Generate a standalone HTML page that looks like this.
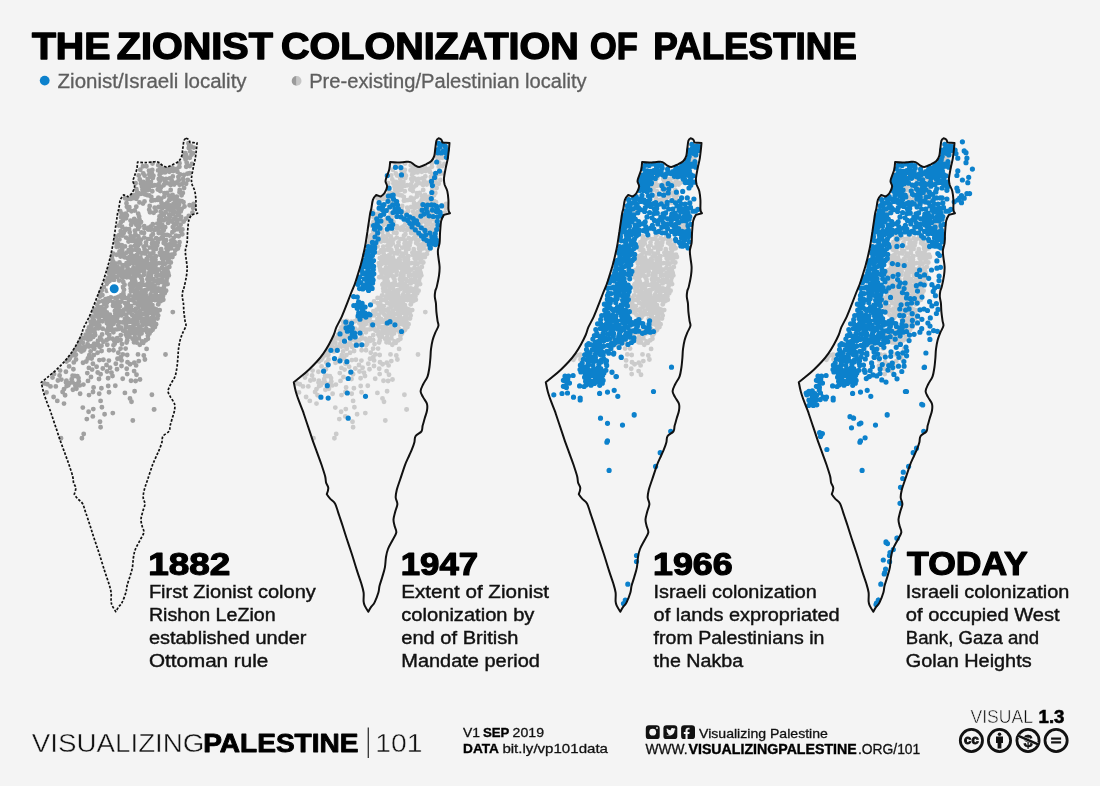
<!DOCTYPE html>
<html><head><meta charset="utf-8"><title>The Zionist Colonization of Palestine</title>
<style>
html,body{margin:0;padding:0;background:#f4f4f4;}
body{width:1100px;height:786px;overflow:hidden;font-family:"Liberation Sans", sans-serif;}
svg{display:block;will-change:transform;}
text{font-family:"Liberation Sans", sans-serif;}
</style></head><body>
<svg width="1100" height="786" viewBox="0 0 1100 786">

<path d="M160.3,222.9h0M178.7,236.3h0M155.9,256.2h0M133.2,256.2h0M172.4,257.0h0M179.5,242.3h0M187.4,173.7h0M167.1,235.0h0M163.9,214.6h0M157.1,245.4h0M139.5,202.4h0M172.5,167.8h0M142.1,253.2h0M149.7,205.9h0M152.5,185.8h0M162.3,225.0h0M152.4,257.6h0M165.2,206.9h0M128.5,241.5h0M145.8,190.7h0M135.0,245.8h0M158.4,197.7h0M191.1,146.5h0M184.1,188.1h0M116.6,246.7h0M161.2,249.3h0M159.6,174.9h0M164.6,204.4h0M166.5,248.4h0M186.1,155.1h0M116.1,236.6h0M160.1,166.2h0M155.4,200.1h0M158.7,184.1h0M175.2,250.5h0M146.0,245.1h0M171.5,254.7h0M166.0,178.9h0M144.3,237.6h0M130.7,198.9h0M179.0,204.8h0M173.2,171.1h0M160.8,206.7h0M176.8,196.8h0M178.2,208.7h0M172.8,176.5h0M139.4,226.8h0M155.7,210.9h0M157.8,189.6h0M188.8,148.0h0M138.2,213.7h0M148.1,190.0h0M122.3,253.2h0M113.3,262.0h0M190.2,151.4h0M158.7,233.0h0M119.4,239.4h0M164.7,234.9h0M136.1,261.8h0M162.2,258.4h0M130.8,246.8h0M185.1,157.5h0M130.7,236.0h0M171.3,240.5h0M146.7,251.2h0M174.4,253.9h0M169.6,235.6h0M122.3,235.6h0M121.6,213.6h0M113.1,253.6h0M136.3,198.8h0M135.6,183.2h0M156.1,248.9h0M171.5,221.4h0M168.5,219.3h0M186.1,183.8h0M182.3,234.3h0M125.0,246.4h0M120.9,233.5h0M136.9,220.7h0M128.6,261.5h0M179.0,245.6h0M132.0,250.3h0M174.0,219.1h0M147.1,261.7h0M169.1,200.3h0M159.5,216.5h0M175.7,245.5h0M169.1,214.4h0M151.1,226.4h0M153.7,212.8h0M158.3,165.2h0M177.1,222.1h0M189.6,205.2h0M138.3,236.5h0M136.4,189.3h0M171.7,243.0h0M122.2,249.7h0M185.9,218.8h0M161.6,231.5h0M193.8,147.6h0M192.6,205.9h0M123.8,255.4h0M160.9,168.7h0M128.7,250.1h0M125.1,198.2h0M171.1,248.3h0M161.6,237.9h0M165.2,227.3h0M163.1,261.8h0M179.5,192.2h0M175.6,216.7h0M179.2,227.4h0M172.6,195.0h0M185.4,153.2h0M180.6,224.7h0M170.7,190.0h0M164.3,196.6h0M142.9,184.2h0M140.4,257.5h0M179.7,190.0h0M165.7,244.4h0M116.7,254.8h0M174.8,242.2h0M181.0,231.6h0M126.9,215.5h0M188.8,215.9h0M159.9,171.4h0M138.6,193.1h0M122.0,247.1h0M143.4,182.0h0M148.1,229.5h0M160.4,255.0h0M163.6,168.9h0M189.6,173.2h0M166.1,218.5h0M191.9,163.9h0M165.4,258.0h0M133.2,198.0h0M133.9,236.5h0M130.5,220.6h0M169.2,258.0h0M160.3,191.1h0M135.9,242.3h0M173.7,238.0h0M169.5,245.6h0M144.5,228.3h0M142.6,260.7h0M169.3,171.7h0M152.8,224.3h0M154.8,185.3h0M159.8,181.0h0M112.0,256.6h0M139.1,216.4h0M164.8,181.4h0M148.7,227.6h0M172.4,232.2h0M189.7,166.0h0M139.8,179.5h0M144.5,201.4h0M148.3,256.8h0M120.6,256.5h0M174.2,184.6h0M161.9,215.4h0M183.5,202.3h0M122.8,216.0h0M143.0,203.6h0M150.4,256.3h0M124.5,257.3h0M184.5,206.5h0M159.1,220.0h0M165.4,212.3h0M140.3,169.8h0M139.6,223.7h0M135.5,249.8h0M170.2,216.7h0M193.0,153.2h0M157.7,242.8h0M120.7,231.1h0M159.1,226.3h0M173.9,223.6h0M115.8,242.6h0M136.9,191.7h0M157.9,199.9h0M167.9,209.2h0M132.8,222.4h0M120.9,222.2h0M178.7,180.2h0M161.5,203.0h0M175.8,224.6h0M158.7,207.0h0M129.7,232.2h0M127.5,198.9h0M163.3,253.0h0M168.1,254.4h0M176.0,182.8h0M163.9,220.2h0M126.5,203.2h0M170.3,205.5h0M121.1,217.3h0M166.3,183.0h0M144.4,187.8h0M161.1,227.0h0M172.8,227.1h0M168.1,206.1h0M179.5,163.2h0M174.4,207.5h0M144.7,194.3h0M175.2,201.9h0M176.0,235.7h0M179.6,184.7h0M157.3,223.6h0M182.8,192.9h0M192.5,212.6h0M129.1,229.2h0M182.4,229.4h0M174.2,211.7h0M151.4,200.8h0M149.0,170.8h0M152.3,169.9h0M137.4,196.5h0M122.1,226.7h0M149.9,176.7h0M180.4,219.3h0M158.8,179.0h0M177.4,171.8h0M129.6,256.9h0M144.2,226.1h0M137.5,245.2h0M126.0,237.6h0M132.0,240.9h0M193.7,203.9h0M153.3,200.3h0M169.9,178.4h0M158.1,170.4h0M144.0,192.2h0M124.0,218.1h0M138.7,175.4h0M134.8,210.5h0M150.0,212.2h0M140.9,183.6h0M163.3,239.2h0M152.3,191.2h0M193.2,208.0h0M131.1,253.5h0M177.4,220.0h0M131.7,195.7h0M138.4,252.8h0M125.8,213.8h0M183.1,179.0h0M149.3,174.4h0M112.4,259.9h0M123.7,233.1h0M146.7,182.9h0M161.9,178.5h0M169.6,169.6h0M154.7,207.8h0M127.3,258.1h0M129.3,207.2h0M167.1,251.6h0M140.2,243.5h0M152.8,178.1h0M126.1,229.0h0M189.3,145.2h0M183.9,174.9h0M161.2,198.7h0M186.2,166.7h0M166.1,240.2h0M166.3,169.3h0M175.7,205.7h0M171.7,198.8h0M136.6,255.2h0M137.9,229.0h0M158.8,239.4h0M134.9,230.8h0M126.5,252.7h0M151.9,173.4h0M149.0,188.0h0M152.5,163.6h0M154.3,229.9h0M155.6,228.2h0M178.9,214.8h0M129.9,238.7h0M179.4,166.8h0M158.4,186.6h0M162.2,208.2h0M161.5,218.5h0M165.0,172.4h0M146.9,195.1h0M136.3,206.7h0M152.9,234.2h0M178.7,200.5h0M144.6,175.5h0M181.6,208.9h0M173.3,209.4h0M147.7,179.1h0M142.0,186.8h0M158.0,229.7h0M141.0,222.0h0M131.2,224.7h0M178.4,176.9h0M188.5,143.3h0M146.4,185.3h0M151.3,197.0h0M118.8,225.6h0M177.0,229.2h0M135.4,234.2h0M177.5,212.9h0M126.0,218.2h0M160.9,187.4h0M117.5,240.0h0M170.6,184.9h0M161.8,233.6h0M147.9,239.1h0M119.1,235.1h0M146.7,258.9h0M150.7,229.8h0M131.5,211.3h0M181.6,195.3h0M136.3,224.7h0M177.9,248.6h0M187.8,180.0h0M167.3,202.8h0M119.6,254.5h0M174.9,198.6h0M170.1,210.0h0M146.4,166.2h0M180.1,174.5h0M143.0,166.2h0M143.3,173.4h0M183.6,221.6h0M183.9,155.9h0M161.4,172.7h0M119.5,251.5h0M149.3,195.5h0M153.4,249.3h0M134.2,219.0h0M145.0,253.4h0M171.9,180.9h0M150.0,184.2h0M120.2,211.1h0M149.9,253.8h0M128.6,209.7h0M134.9,195.3h0M172.9,213.8h0M152.0,260.0h0M180.7,211.4h0M150.9,182.0h0M140.8,193.9h0M164.5,193.3h0M160.7,211.7h0M154.2,246.6h0M169.1,195.8h0M118.7,246.5h0M167.1,192.9h0M183.4,182.6h0M142.5,189.7h0M122.8,220.8h0M163.6,185.2h0M134.2,240.1h0M181.1,217.0h0M168.9,183.6h0M144.0,233.0h0M141.4,232.5h0M150.6,238.8h0M170.5,207.7h0M149.2,209.7h0M181.8,201.1h0M153.4,175.7h0M186.7,162.6h0M168.1,222.9h0M159.9,252.7h0M163.7,230.3h0M189.8,157.7h0M176.6,168.9h0M138.9,250.2h0M174.1,230.6h0M185.6,159.6h0M191.5,154.8h0M121.8,245.1h0M124.9,230.5h0M182.0,184.1h0M151.5,235.7h0M126.9,206.7h0M139.5,219.8h0M173.1,245.1h0M173.5,203.8h0M118.4,244.1h0M129.2,273.7h0M130.7,288.6h0M158.2,283.4h0M137.3,321.4h0M162.4,277.0h0M150.0,266.8h0M145.3,284.9h0M152.6,329.8h0M125.0,303.1h0M84.9,338.2h0M149.2,287.2h0M139.4,334.8h0M95.7,312.9h0M85.8,346.7h0M82.8,342.7h0M102.7,328.7h0M139.4,284.1h0M113.4,275.0h0M153.9,308.5h0M103.2,315.9h0M143.1,314.3h0M147.9,335.8h0M168.2,273.0h0M137.6,265.2h0M156.4,275.7h0M136.3,312.3h0M159.0,275.3h0M98.0,340.7h0M140.4,266.6h0M154.4,285.8h0M128.0,298.0h0M162.0,267.7h0M95.5,328.8h0M113.4,332.2h0M113.9,329.8h0M91.6,331.0h0M94.7,346.1h0M162.3,263.4h0M140.3,311.0h0M142.1,322.0h0M145.0,290.3h0M163.3,299.7h0M133.5,267.7h0M123.0,330.5h0M164.7,285.0h0M106.8,290.7h0M154.9,300.0h0M155.6,268.7h0M93.2,336.9h0M135.3,281.7h0M134.9,321.6h0M120.8,335.1h0M97.3,305.0h0M134.1,299.0h0M103.8,287.1h0M134.0,317.6h0M163.2,292.9h0M79.1,343.9h0M117.9,340.7h0M135.3,333.5h0M157.7,300.1h0M155.3,280.7h0M109.7,300.5h0M103.4,341.7h0M88.9,327.4h0M159.6,296.1h0M150.0,264.1h0M131.0,291.3h0M129.7,299.9h0M90.9,335.6h0M88.1,339.7h0M146.0,303.5h0M149.5,333.6h0M117.5,266.6h0M109.5,281.6h0M152.3,326.0h0M113.6,323.7h0M124.1,309.7h0M145.8,340.3h0M162.0,272.8h0M137.1,289.5h0M113.8,265.4h0M123.3,282.0h0M147.7,289.3h0M147.1,332.3h0M146.0,306.1h0M139.1,331.8h0M136.4,273.4h0M113.9,269.1h0M123.1,274.0h0M131.8,322.0h0M147.5,314.2h0M150.9,275.4h0M144.0,274.8h0M90.7,321.8h0M99.1,318.0h0M132.1,269.8h0M98.1,344.7h0M119.9,306.6h0M117.1,276.9h0M139.4,314.5h0M74.2,352.1h0M107.2,333.1h0M157.2,313.4h0M156.2,309.5h0M128.7,319.2h0M127.7,268.4h0M81.4,351.5h0M143.6,269.8h0M85.7,334.6h0M133.4,263.6h0M113.9,280.1h0M114.9,311.0h0M115.3,297.9h0M108.0,316.7h0M93.2,311.2h0M108.9,269.5h0M109.0,338.6h0M123.8,295.9h0M143.0,293.0h0M126.3,327.4h0M115.3,313.7h0M129.6,295.4h0M102.1,334.5h0M105.4,314.4h0M127.2,340.5h0M154.9,318.5h0M100.1,337.4h0M121.3,275.9h0M122.4,322.4h0M110.6,267.2h0M95.3,309.5h0M150.7,294.4h0M122.0,297.6h0M135.8,296.5h0M99.9,296.5h0M144.2,319.1h0M131.2,306.2h0M126.8,277.2h0M107.1,283.9h0M135.3,293.8h0M94.3,320.9h0M108.3,298.5h0M104.8,318.7h0M117.4,317.2h0M159.7,310.1h0M93.2,318.4h0M146.9,316.6h0M99.6,311.2h0M150.0,271.0h0M83.1,347.1h0M150.2,284.7h0M142.7,267.5h0M136.5,269.3h0M139.4,301.7h0M79.7,346.9h0M111.0,325.9h0M106.7,330.5h0M115.4,263.5h0M103.8,312.1h0M75.7,349.7h0M140.7,318.5h0M137.5,286.2h0M147.0,300.7h0M167.4,270.5h0M138.9,338.4h0M140.5,288.1h0M146.3,328.8h0M117.1,268.9h0M133.4,273.5h0M109.2,334.9h0M155.6,288.1h0M125.9,314.7h0M145.8,324.6h0M88.8,333.3h0M99.3,325.4h0M142.2,281.5h0M152.8,264.2h0M97.1,316.6h0M123.4,293.2h0M87.6,344.1h0M117.2,338.1h0M115.9,304.0h0M118.2,309.8h0M106.9,323.3h0M148.9,273.2h0M155.7,293.8h0M98.8,314.7h0M136.6,262.1h0M125.1,271.6h0M143.2,303.3h0M91.5,346.2h0M124.9,319.1h0M97.0,325.1h0M105.5,299.2h0M147.7,297.8h0M119.5,268.8h0M129.2,264.1h0M153.9,311.4h0M100.1,293.6h0M132.1,300.1h0M122.5,267.7h0M121.3,327.6h0M117.1,321.1h0M114.7,343.8h0M108.2,328.0h0M118.3,296.8h0M138.9,327.2h0M122.8,287.3h0M169.3,266.9h0M144.4,300.0h0M113.5,321.0h0M90.6,339.1h0M122.6,265.3h0M126.5,263.3h0M112.0,263.6h0M132.0,282.1h0M162.4,289.3h0M128.4,322.0h0M119.1,328.8h0M141.1,277.7h0M156.1,324.3h0M125.1,297.9h0M149.7,279.9h0M141.8,290.6h0M132.2,329.6h0M110.9,297.4h0M98.9,321.6h0M110.4,275.8h0M160.3,301.3h0M128.6,307.1h0M158.2,304.4h0M122.7,277.8h0M136.6,342.6h0M142.3,284.8h0M124.0,289.8h0M130.4,277.5h0M134.7,337.0h0M155.4,262.9h0M122.3,270.7h0M154.9,327.1h0M135.9,308.8h0M129.0,312.4h0M106.7,340.0h0M107.7,320.7h0M98.9,301.7h0M148.3,306.9h0M118.3,325.3h0M145.5,292.6h0M130.1,330.7h0M148.8,310.8h0M117.4,301.2h0M140.8,270.8h0M121.3,295.1h0M159.0,269.6h0M152.4,305.1h0M111.8,278.6h0M132.4,285.0h0M105.8,281.0h0M137.5,304.1h0M158.5,280.0h0M129.5,336.6h0M153.4,272.1h0M162.6,280.4h0M142.3,296.6h0M135.6,315.6h0M132.0,314.8h0M170.8,262.5h0M112.6,338.8h0M166.3,268.4h0M157.3,291.0h0M125.8,334.4h0M141.9,263.8h0M155.7,296.3h0M134.8,276.0h0M125.7,324.8h0M149.3,330.5h0M91.3,328.4h0M72.4,355.4h0M102.8,301.2h0M108.5,325.6h0M148.4,276.5h0M111.8,317.1h0M141.5,333.4h0M136.1,330.1h0M116.7,329.4h0M150.8,301.3h0M108.1,277.7h0M132.2,279.5h0M104.4,304.2h0M130.7,308.6h0M166.5,281.1h0M101.5,345.7h0M165.0,263.9h0M125.6,322.1h0M154.2,322.4h0M121.5,301.5h0M94.7,332.7h0M148.0,283.3h0M106.4,306.3h0M139.9,295.1h0M128.0,270.7h0M166.1,290.8h0M91.5,316.4h0M81.8,337.8h0M168.8,275.4h0M115.1,316.8h0M119.2,303.7h0M150.1,297.8h0M147.9,338.8h0M84.2,349.5h0M160.6,298.2h0M115.2,272.1h0M107.3,344.7h0M110.1,329.8h0M125.6,331.6h0M148.0,323.5h0M142.3,325.4h0M101.3,339.5h0M140.1,305.6h0M115.7,307.0h0M80.7,340.2h0M117.9,272.4h0M151.4,313.1h0M151.8,318.0h0M151.2,309.2h0M163.8,287.2h0M138.3,299.5h0M133.1,319.7h0M109.8,314.6h0M102.5,321.2h0M167.9,262.0h0M109.1,273.2h0M95.2,335.0h0M133.8,290.1h0M101.7,290.6h0M99.0,307.5h0M120.6,339.9h0M113.0,305.7h0M143.9,330.1h0M152.9,314.9h0M148.5,321.0h0M102.0,310.3h0M120.9,311.1h0M114.3,341.0h0M119.2,322.3h0M142.1,341.5h0M129.1,333.9h0M133.5,325.7h0M129.9,284.8h0M131.5,332.9h0M104.6,309.1h0M152.0,291.4h0M158.2,315.6h0M157.5,318.5h0M113.1,302.1h0M134.8,303.0h0M149.1,304.7h0M152.7,267.8h0M74.9,355.0h0M87.5,330.9h0M151.6,288.7h0M94.7,316.3h0M111.1,322.8h0M134.0,342.3h0M90.8,325.8h0M127.4,309.7h0M134.0,310.3h0M114.5,277.2h0M138.4,307.2h0M102.4,295.1h0M89.0,336.9h0M147.2,309.0h0M107.0,302.5h0M165.7,272.3h0M155.6,265.3h0M135.6,340.3h0M146.7,265.6h0M132.7,287.3h0M68.9,359.7h0M89.0,346.5h0M101.4,313.0h0M66.5,361.6h0M77.3,346.9h0M119.0,275.0h0M145.1,321.6h0M119.1,280.5h0M134.4,270.9h0M134.8,285.3h0M129.7,327.2h0M145.8,295.1h0M109.9,319.3h0M141.7,300.4h0M94.2,343.6h0M124.5,284.8h0M134.5,279.3h0M143.4,306.0h0M145.8,311.5h0M126.7,317.4h0M139.4,275.7h0M136.6,317.7h0M152.8,296.1h0M121.5,315.4h0M159.7,289.0h0M93.4,324.3h0M119.5,262.4h0M164.1,269.2h0M159.1,263.1h0M149.3,318.6h0M133.3,296.5h0M123.0,313.5h0M152.7,320.5h0M137.7,324.0h0M101.5,307.2h0M125.7,274.5h0M167.1,277.9h0M95.8,323.0h0M106.8,312.4h0M126.9,266.0h0M118.6,313.4h0M120.2,271.7h0M127.0,336.7h0M132.6,338.7h0M111.4,271.8h0M153.1,279.1h0M162.9,296.3h0M167.6,284.1h0M98.5,328.3h0M139.0,292.9h0M136.5,256.5h0M143.4,322.4h0M138.7,266.3h0M151.0,276.9h0M132.8,281.9h0M148.6,283.3h0M155.5,267.6h0M139.4,271.3h0M130.5,284.0h0M152.3,310.9h0M133.6,320.4h0M158.3,304.3h0M141.6,283.8h0M135.3,245.5h0M134.9,296.0h0M155.5,259.7h0M161.5,292.9h0M138.5,241.9h0M138.6,285.7h0M140.2,297.4h0M153.5,290.5h0M130.2,312.0h0M138.0,245.8h0M164.8,276.1h0M162.2,279.2h0M168.2,249.4h0M170.9,256.4h0M132.1,260.6h0M140.9,239.7h0M154.2,243.0h0M135.2,328.6h0M130.0,308.9h0M163.7,243.0h0M138.1,259.8h0M155.1,270.1h0M155.4,299.1h0M152.0,243.6h0M153.0,266.2h0M140.3,300.4h0M164.7,293.2h0M152.3,240.5h0M147.1,315.9h0M150.8,299.0h0M135.7,331.0h0M132.4,289.9h0M130.9,270.1h0M135.1,293.4h0M143.0,308.7h0M149.3,269.0h0M149.8,247.6h0M153.3,315.4h0M152.0,283.4h0M166.1,255.5h0M138.1,239.7h0M134.5,260.8h0M158.4,288.5h0M147.4,279.2h0M142.0,279.4h0M145.4,305.1h0M147.3,259.8h0M150.6,309.4h0M156.0,290.0h0M138.6,274.8h0M147.2,267.5h0M133.4,256.4h0M150.1,324.3h0M126.4,305.9h0M152.8,285.9h0M135.6,323.1h0M128.7,299.8h0M155.9,295.6h0M145.1,252.8h0M154.2,249.4h0M144.2,271.5h0M127.9,304.0h0M156.2,238.3h0M138.5,262.9h0M140.6,329.7h0M153.3,252.8h0M155.9,310.5h0M143.7,246.6h0M165.8,281.8h0M155.4,245.3h0M169.3,244.5h0M164.6,269.9h0M162.1,300.2h0M157.1,271.6h0M146.0,295.7h0M158.4,269.6h0M163.0,257.3h0M148.6,273.6h0M135.4,276.4h0M134.9,258.5h0M138.8,331.8h0M163.2,274.2h0M144.6,249.2h0M143.8,263.7h0M151.1,331.1h0M162.0,282.0h0M137.2,316.7h0M135.5,273.1h0M159.3,280.3h0M141.3,303.9h0M146.0,242.5h0M151.9,271.6h0M87.9,358.5h0M97.7,372.5h0M103.4,359.7h0M97.6,352.7h0M73.8,362.4h0M134.1,371.1h0M117.0,369.3h0M102.8,368.5h0M117.5,358.7h0M94.3,348.7h0M126.6,342.6h0M127.2,355.0h0M121.5,366.0h0M73.4,369.2h0M138.0,354.4h0M120.6,348.6h0M92.1,369.6h0M126.7,368.8h0M134.3,362.8h0M79.9,350.1h0M69.1,366.4h0M138.8,361.1h0M99.4,360.1h0M83.0,362.7h0M110.1,367.7h0M125.6,348.6h0M83.4,350.4h0M90.6,351.4h0M130.1,364.3h0M96.6,366.7h0M108.9,360.6h0M89.3,355.2h0M99.5,346.8h0M115.8,363.7h0M106.5,365.0h0M144.9,359.5h0M101.6,351.0h0M93.9,355.1h0M75.9,354.7h0M109.1,350.3h0M86.3,361.5h0M92.9,363.7h0M143.2,342.9h0M91.6,358.6h0M113.5,345.2h0M76.0,359.5h0M122.0,344.1h0M127.2,374.1h0M122.8,354.4h0M120.8,357.2h0M118.3,352.8h0M76.2,348.9h0M88.9,367.9h0M113.5,350.3h0M127.5,362.3h0M136.1,365.4h0M69.9,358.0h0M111.5,372.8h0M121.6,360.4h0M143.8,355.5h0M107.0,371.5h0M146.6,348.9h0M139.8,344.7h0M79.7,385.4h0M83.4,384.6h0M55.8,386.4h0M72.9,389.7h0M61.4,379.6h0M74.9,376.0h0M72.6,382.4h0M66.0,382.4h0M71.7,379.2h0M52.5,377.6h0M57.9,380.5h0M76.1,384.1h0M59.6,375.5h0M50.5,386.4h0M54.0,374.1h0M47.3,384.2h0M62.6,392.0h0M64.0,389.1h0M78.5,378.1h0M66.7,386.1h0M76.4,388.8h0M69.4,383.3h0M53.6,397.0h0M100.6,374.2h0M60.1,370.6h0M136.5,374.8h0M91.0,377.0h0M108.1,378.2h0M93.0,392.0h0M75.4,385.8h0M87.3,373.1h0M109.0,392.3h0M112.5,376.0h0M89.0,395.1h0M135.6,381.0h0M99.2,393.7h0M46.5,392.4h0M93.6,387.5h0M108.2,386.0h0M77.4,376.3h0M66.4,380.6h0M115.3,385.7h0M131.0,380.7h0M65.9,371.7h0M124.9,392.9h0M80.1,393.7h0M44.4,383.4h0M140.0,379.5h0M88.0,380.9h0M65.1,395.2h0M68.3,385.3h0M78.8,381.5h0M99.0,379.0h0M72.6,375.8h0M122.7,378.8h0M101.4,388.3h0M57.3,400.9h0M64.0,403.6h0M82.8,407.6h0M88.6,411.8h0M93.3,409.1h0M101.9,407.3h0M100.6,400.9h0M92.8,416.4h0M104.6,414.2h0M112.8,413.1h0M86.8,419.1h0M100.0,421.8h0M100.6,427.3h0M83.7,434.0h0M81.9,438.2h0M61.0,438.2h0M172.8,312.1h0M165.5,354.5h0M151.9,394.8h0M154.2,409.4h0M134.6,391.2h0M130.0,398.5h0M131.5,401.7h0M154.0,409.5h0M132.8,420.5h0M131.5,401.8h0" fill="none" stroke="#a0a0a0" stroke-width="4.9" stroke-linecap="round"/>
<circle cx="114.2" cy="288.8" r="5.6" fill="#0c81cc" stroke="#fff" stroke-width="2.2"/>
<path d="M412.8,222.9h0M431.2,236.3h0M408.4,256.2h0M385.7,256.2h0M424.9,257.0h0M432.0,242.3h0M439.9,173.7h0M419.6,235.0h0M416.4,214.6h0M409.6,245.4h0M392.0,202.4h0M425.0,167.8h0M394.6,253.2h0M402.2,205.9h0M405.0,185.8h0M414.8,225.0h0M404.9,257.6h0M417.7,206.9h0M381.0,241.5h0M398.3,190.7h0M387.5,245.8h0M410.9,197.7h0M443.6,146.5h0M436.6,188.1h0M413.7,249.3h0M412.1,174.9h0M417.1,204.4h0M419.0,248.4h0M438.6,155.1h0M368.6,236.6h0M412.6,166.2h0M407.9,200.1h0M411.2,184.1h0M427.7,250.5h0M398.5,245.1h0M424.0,254.7h0M418.5,178.9h0M396.8,237.6h0M383.2,198.9h0M431.5,204.8h0M425.7,171.1h0M413.3,206.7h0M429.3,196.8h0M430.7,208.7h0M425.3,176.5h0M391.9,226.8h0M408.2,210.9h0M410.3,189.6h0M441.3,148.0h0M390.7,213.7h0M400.6,190.0h0M442.7,151.4h0M411.2,233.0h0M371.9,239.4h0M417.2,234.9h0M388.6,261.8h0M414.7,258.4h0M383.3,246.8h0M437.6,157.5h0M383.2,236.0h0M423.8,240.5h0M399.2,251.2h0M426.9,253.9h0M422.1,235.6h0M374.8,235.6h0M374.1,213.6h0M388.8,198.8h0M388.1,183.2h0M408.6,248.9h0M424.0,221.4h0M421.0,219.3h0M438.6,183.8h0M434.8,234.3h0M377.5,246.4h0M373.4,233.5h0M389.4,220.7h0M381.1,261.5h0M431.5,245.6h0M384.5,250.3h0M426.5,219.1h0M399.6,261.7h0M421.6,200.3h0M412.0,216.5h0M428.2,245.5h0M421.6,214.4h0M403.6,226.4h0M406.2,212.8h0M410.8,165.2h0M429.6,222.1h0M442.1,205.2h0M390.8,236.5h0M388.9,189.3h0M424.2,243.0h0M438.4,218.8h0M414.1,231.5h0M446.3,147.6h0M445.1,205.9h0M413.4,168.7h0M381.2,250.1h0M377.6,198.2h0M423.6,248.3h0M414.1,237.9h0M417.7,227.3h0M415.6,261.8h0M432.0,192.2h0M428.1,216.7h0M431.7,227.4h0M425.1,195.0h0M437.9,153.2h0M433.1,224.7h0M423.2,190.0h0M416.8,196.6h0M395.4,184.2h0M392.9,257.5h0M432.2,190.0h0M418.2,244.4h0M427.3,242.2h0M433.5,231.6h0M379.4,215.5h0M441.3,215.9h0M412.4,171.4h0M391.1,193.1h0M395.9,182.0h0M400.6,229.5h0M412.9,255.0h0M416.1,168.9h0M442.1,173.2h0M418.6,218.5h0M444.4,163.9h0M417.9,258.0h0M385.7,198.0h0M386.4,236.5h0M383.0,220.6h0M421.7,258.0h0M412.8,191.1h0M388.4,242.3h0M426.2,238.0h0M422.0,245.6h0M397.0,228.3h0M395.1,260.7h0M421.8,171.7h0M405.3,224.3h0M407.3,185.3h0M412.3,181.0h0M391.6,216.4h0M417.3,181.4h0M401.2,227.6h0M424.9,232.2h0M442.2,166.0h0M392.3,179.5h0M397.0,201.4h0M400.8,256.8h0M426.7,184.6h0M414.4,215.4h0M436.0,202.3h0M375.3,216.0h0M395.5,203.6h0M402.9,256.3h0M437.0,206.5h0M411.6,220.0h0M417.9,212.3h0M392.8,169.8h0M392.1,223.7h0M388.0,249.8h0M422.7,216.7h0M445.5,153.2h0M410.2,242.8h0M373.2,231.1h0M411.6,226.3h0M426.4,223.6h0M368.3,242.6h0M389.4,191.7h0M410.4,199.9h0M420.4,209.2h0M385.3,222.4h0M373.4,222.2h0M431.2,180.2h0M414.0,203.0h0M428.3,224.6h0M411.2,207.0h0M382.2,232.2h0M380.0,198.9h0M415.8,253.0h0M420.6,254.4h0M428.5,182.8h0M416.4,220.2h0M379.0,203.2h0M422.8,205.5h0M373.6,217.3h0M418.8,183.0h0M396.9,187.8h0M413.6,227.0h0M425.3,227.1h0M420.6,206.1h0M432.0,163.2h0M426.9,207.5h0M397.2,194.3h0M427.7,201.9h0M428.5,235.7h0M432.1,184.7h0M409.8,223.6h0M435.3,192.9h0M445.0,212.6h0M381.6,229.2h0M434.9,229.4h0M426.7,211.7h0M403.9,200.8h0M401.5,170.8h0M404.8,169.9h0M389.9,196.5h0M374.6,226.7h0M402.4,176.7h0M432.9,219.3h0M411.3,179.0h0M429.9,171.8h0M382.1,256.9h0M396.7,226.1h0M390.0,245.2h0M378.5,237.6h0M384.5,240.9h0M446.2,203.9h0M405.8,200.3h0M422.4,178.4h0M410.6,170.4h0M396.5,192.2h0M376.5,218.1h0M391.2,175.4h0M387.3,210.5h0M402.5,212.2h0M393.4,183.6h0M415.8,239.2h0M404.8,191.2h0M445.7,208.0h0M383.6,253.5h0M429.9,220.0h0M384.2,195.7h0M390.9,252.8h0M378.3,213.8h0M435.6,179.0h0M401.8,174.4h0M376.2,233.1h0M399.2,182.9h0M414.4,178.5h0M422.1,169.6h0M407.2,207.8h0M379.8,258.1h0M381.8,207.2h0M419.6,251.6h0M392.7,243.5h0M405.3,178.1h0M378.6,229.0h0M441.8,145.2h0M436.4,174.9h0M413.7,198.7h0M438.7,166.7h0M418.6,240.2h0M418.8,169.3h0M428.2,205.7h0M424.2,198.8h0M389.1,255.2h0M390.4,229.0h0M411.3,239.4h0M387.4,230.8h0M379.0,252.7h0M404.4,173.4h0M401.5,188.0h0M405.0,163.6h0M406.8,229.9h0M408.1,228.2h0M431.4,214.8h0M382.4,238.7h0M431.9,166.8h0M410.9,186.6h0M414.7,208.2h0M414.0,218.5h0M417.5,172.4h0M399.4,195.1h0M388.8,206.7h0M405.4,234.2h0M431.2,200.5h0M397.1,175.5h0M434.1,208.9h0M425.8,209.4h0M400.2,179.1h0M394.5,186.8h0M410.5,229.7h0M393.5,222.0h0M383.7,224.7h0M430.9,176.9h0M441.0,143.3h0M398.9,185.3h0M403.8,197.0h0M371.3,225.6h0M429.5,229.2h0M387.9,234.2h0M430.0,212.9h0M378.5,218.2h0M413.4,187.4h0M370.0,240.0h0M423.1,184.9h0M414.3,233.6h0M400.4,239.1h0M371.6,235.1h0M399.2,258.9h0M403.2,229.8h0M384.0,211.3h0M434.1,195.3h0M388.8,224.7h0M430.4,248.6h0M440.3,180.0h0M419.8,202.8h0M427.4,198.6h0M422.6,210.0h0M398.9,166.2h0M432.6,174.5h0M395.5,166.2h0M395.8,173.4h0M436.1,221.6h0M436.4,155.9h0M413.9,172.7h0M401.8,195.5h0M405.9,249.3h0M386.7,219.0h0M397.5,253.4h0M424.4,180.9h0M402.5,184.2h0M372.7,211.1h0M402.4,253.8h0M381.1,209.7h0M387.4,195.3h0M425.4,213.8h0M404.5,260.0h0M433.2,211.4h0M403.4,182.0h0M393.3,193.9h0M417.0,193.3h0M413.2,211.7h0M406.7,246.6h0M421.6,195.8h0M419.6,192.9h0M435.9,182.6h0M395.0,189.7h0M375.3,220.8h0M416.1,185.2h0M386.7,240.1h0M433.6,217.0h0M421.4,183.6h0M396.5,233.0h0M393.9,232.5h0M403.1,238.8h0M423.0,207.7h0M401.7,209.7h0M434.3,201.1h0M405.9,175.7h0M439.2,162.6h0M420.6,222.9h0M412.4,252.7h0M416.2,230.3h0M442.3,157.7h0M429.1,168.9h0M391.4,250.2h0M426.6,230.6h0M438.1,159.6h0M444.0,154.8h0M377.4,230.5h0M434.5,184.1h0M404.0,235.7h0M379.4,206.7h0M392.0,219.8h0M425.6,245.1h0M426.0,203.8h0M370.9,244.1h0M381.7,273.7h0M383.2,288.6h0M410.7,283.4h0M389.8,321.4h0M414.9,277.0h0M402.5,266.8h0M397.8,284.9h0M405.1,329.8h0M377.5,303.1h0M337.4,338.2h0M401.7,287.2h0M391.9,334.8h0M338.3,346.7h0M335.3,342.7h0M355.2,328.7h0M391.9,284.1h0M406.4,308.5h0M395.6,314.3h0M400.4,335.8h0M420.7,273.0h0M390.1,265.2h0M408.9,275.7h0M388.8,312.3h0M411.5,275.3h0M350.5,340.7h0M392.9,266.6h0M406.9,285.8h0M380.5,298.0h0M414.5,267.7h0M348.0,328.8h0M365.9,332.2h0M366.4,329.8h0M344.1,331.0h0M347.2,346.1h0M414.8,263.4h0M392.8,311.0h0M394.6,322.0h0M397.5,290.3h0M415.8,299.7h0M386.0,267.7h0M375.5,330.5h0M417.2,285.0h0M407.4,300.0h0M408.1,268.7h0M345.7,336.9h0M387.8,281.7h0M387.4,321.6h0M373.3,335.1h0M386.6,299.0h0M386.5,317.6h0M415.7,292.9h0M331.6,343.9h0M370.4,340.7h0M387.8,333.5h0M410.2,300.1h0M407.8,280.7h0M355.9,341.7h0M341.4,327.4h0M412.1,296.1h0M402.5,264.1h0M383.5,291.3h0M382.2,299.9h0M343.4,335.6h0M340.6,339.7h0M398.5,303.5h0M402.0,333.6h0M404.8,326.0h0M366.1,323.7h0M376.6,309.7h0M398.3,340.3h0M414.5,272.8h0M389.6,289.5h0M400.2,289.3h0M399.6,332.3h0M398.5,306.1h0M391.6,331.8h0M388.9,273.4h0M384.3,322.0h0M400.0,314.2h0M403.4,275.4h0M396.5,274.8h0M343.2,321.8h0M384.6,269.8h0M350.6,344.7h0M391.9,314.5h0M326.7,352.1h0M359.7,333.1h0M409.7,313.4h0M408.7,309.5h0M381.2,319.2h0M380.2,268.4h0M333.9,351.5h0M396.1,269.8h0M338.2,334.6h0M385.9,263.6h0M361.5,338.6h0M395.5,293.0h0M378.8,327.4h0M382.1,295.4h0M354.6,334.5h0M379.7,340.5h0M407.4,318.5h0M352.6,337.4h0M374.9,322.4h0M403.2,294.4h0M388.3,296.5h0M396.7,319.1h0M383.7,306.2h0M379.3,277.2h0M387.8,293.8h0M346.8,320.9h0M357.3,318.7h0M369.9,317.2h0M412.2,310.1h0M399.4,316.6h0M402.5,271.0h0M335.6,347.1h0M402.7,284.7h0M395.2,267.5h0M389.0,269.3h0M391.9,301.7h0M332.2,346.9h0M363.5,325.9h0M359.2,330.5h0M328.2,349.7h0M393.2,318.5h0M390.0,286.2h0M399.5,300.7h0M419.9,270.5h0M391.4,338.4h0M393.0,288.1h0M398.8,328.8h0M385.9,273.5h0M361.7,334.9h0M408.1,288.1h0M378.4,314.7h0M398.3,324.6h0M341.3,333.3h0M351.8,325.4h0M394.7,281.5h0M405.3,264.2h0M340.1,344.1h0M369.7,338.1h0M359.4,323.3h0M401.4,273.2h0M408.2,293.8h0M389.1,262.1h0M395.7,303.3h0M344.0,346.2h0M377.4,319.1h0M349.5,325.1h0M400.2,297.8h0M381.7,264.1h0M406.4,311.4h0M384.6,300.1h0M373.8,327.6h0M369.6,321.1h0M367.2,343.8h0M360.7,328.0h0M391.4,327.2h0M421.8,266.9h0M396.9,300.0h0M366.0,321.0h0M343.1,339.1h0M379.0,263.3h0M384.5,282.1h0M414.9,289.3h0M380.9,322.0h0M371.6,328.8h0M393.6,277.7h0M408.6,324.3h0M377.6,297.9h0M402.2,279.9h0M394.3,290.6h0M384.7,329.6h0M351.4,321.6h0M412.8,301.3h0M381.1,307.1h0M410.7,304.4h0M389.1,342.6h0M394.8,284.8h0M382.9,277.5h0M387.2,337.0h0M407.9,262.9h0M407.4,327.1h0M388.4,308.8h0M381.5,312.4h0M359.2,340.0h0M360.2,320.7h0M400.8,306.9h0M370.8,325.3h0M398.0,292.6h0M382.6,330.7h0M401.3,310.8h0M393.3,270.8h0M411.5,269.6h0M404.9,305.1h0M384.9,285.0h0M390.0,304.1h0M411.0,280.0h0M382.0,336.6h0M405.9,272.1h0M415.1,280.4h0M394.8,296.6h0M388.1,315.6h0M384.5,314.8h0M423.3,262.5h0M365.1,338.8h0M418.8,268.4h0M409.8,291.0h0M378.3,334.4h0M394.4,263.8h0M408.2,296.3h0M387.3,276.0h0M378.2,324.8h0M401.8,330.5h0M343.8,328.4h0M324.9,355.4h0M361.0,325.6h0M400.9,276.5h0M364.3,317.1h0M394.0,333.4h0M388.6,330.1h0M369.2,329.4h0M403.3,301.3h0M384.7,279.5h0M383.2,308.6h0M419.0,281.1h0M354.0,345.7h0M417.5,263.9h0M378.1,322.1h0M406.7,322.4h0M374.0,301.5h0M347.2,332.7h0M400.5,283.3h0M392.4,295.1h0M380.5,270.7h0M418.6,290.8h0M334.3,337.8h0M421.3,275.4h0M367.6,316.8h0M402.6,297.8h0M400.4,338.8h0M336.7,349.5h0M413.1,298.2h0M359.8,344.7h0M362.6,329.8h0M378.1,331.6h0M400.5,323.5h0M394.8,325.4h0M353.8,339.5h0M392.6,305.6h0M333.2,340.2h0M403.9,313.1h0M404.3,318.0h0M403.7,309.2h0M416.3,287.2h0M390.8,299.5h0M385.6,319.7h0M355.0,321.2h0M420.4,262.0h0M347.7,335.0h0M386.3,290.1h0M373.1,339.9h0M396.4,330.1h0M405.4,314.9h0M401.0,321.0h0M373.4,311.1h0M366.8,341.0h0M371.7,322.3h0M394.6,341.5h0M381.6,333.9h0M386.0,325.7h0M382.4,284.8h0M384.0,332.9h0M404.5,291.4h0M410.7,315.6h0M410.0,318.5h0M387.3,303.0h0M401.6,304.7h0M405.2,267.8h0M327.4,355.0h0M340.0,330.9h0M404.1,288.7h0M363.6,322.8h0M386.5,342.3h0M343.3,325.8h0M379.9,309.7h0M386.5,310.3h0M390.9,307.2h0M341.5,336.9h0M399.7,309.0h0M418.2,272.3h0M408.1,265.3h0M388.1,340.3h0M399.2,265.6h0M385.2,287.3h0M321.4,359.7h0M341.5,346.5h0M319.0,361.6h0M329.8,346.9h0M397.6,321.6h0M386.9,270.9h0M387.3,285.3h0M382.2,327.2h0M398.3,295.1h0M362.4,319.3h0M394.2,300.4h0M346.7,343.6h0M387.0,279.3h0M395.9,306.0h0M398.3,311.5h0M379.2,317.4h0M391.9,275.7h0M389.1,317.7h0M405.3,296.1h0M374.0,315.4h0M412.2,289.0h0M345.9,324.3h0M416.6,269.2h0M411.6,263.1h0M401.8,318.6h0M385.8,296.5h0M375.5,313.5h0M405.2,320.5h0M390.2,324.0h0M419.6,277.9h0M348.3,323.0h0M379.4,266.0h0M379.5,336.7h0M385.1,338.7h0M405.6,279.1h0M415.4,296.3h0M420.1,284.1h0M351.0,328.3h0M391.5,292.9h0M389.0,256.5h0M395.9,322.4h0M391.2,266.3h0M403.5,276.9h0M385.3,281.9h0M401.1,283.3h0M408.0,267.6h0M391.9,271.3h0M383.0,284.0h0M404.8,310.9h0M386.1,320.4h0M410.8,304.3h0M394.1,283.8h0M387.8,245.5h0M387.4,296.0h0M408.0,259.7h0M414.0,292.9h0M391.0,241.9h0M391.1,285.7h0M392.7,297.4h0M406.0,290.5h0M382.7,312.0h0M390.5,245.8h0M417.3,276.1h0M414.7,279.2h0M420.7,249.4h0M423.4,256.4h0M384.6,260.6h0M393.4,239.7h0M406.7,243.0h0M387.7,328.6h0M382.5,308.9h0M416.2,243.0h0M390.6,259.8h0M407.6,270.1h0M407.9,299.1h0M404.5,243.6h0M405.5,266.2h0M392.8,300.4h0M417.2,293.2h0M404.8,240.5h0M399.6,315.9h0M403.3,299.0h0M388.2,331.0h0M384.9,289.9h0M383.4,270.1h0M387.6,293.4h0M395.5,308.7h0M401.8,269.0h0M402.3,247.6h0M405.8,315.4h0M404.5,283.4h0M418.6,255.5h0M390.6,239.7h0M387.0,260.8h0M410.9,288.5h0M399.9,279.2h0M394.5,279.4h0M397.9,305.1h0M399.8,259.8h0M403.1,309.4h0M408.5,290.0h0M391.1,274.8h0M399.7,267.5h0M385.9,256.4h0M402.6,324.3h0M378.9,305.9h0M405.3,285.9h0M388.1,323.1h0M381.2,299.8h0M408.4,295.6h0M397.6,252.8h0M406.7,249.4h0M396.7,271.5h0M380.4,304.0h0M408.7,238.3h0M391.0,262.9h0M393.1,329.7h0M405.8,252.8h0M408.4,310.5h0M396.2,246.6h0M418.3,281.8h0M407.9,245.3h0M421.8,244.5h0M417.1,269.9h0M414.6,300.2h0M409.6,271.6h0M398.5,295.7h0M410.9,269.6h0M415.5,257.3h0M401.1,273.6h0M387.9,276.4h0M387.4,258.5h0M391.3,331.8h0M415.7,274.2h0M397.1,249.2h0M396.3,263.7h0M403.6,331.1h0M414.5,282.0h0M389.7,316.7h0M388.0,273.1h0M411.8,280.3h0M393.8,303.9h0M398.5,242.5h0M404.4,271.6h0M340.4,358.5h0M350.2,372.5h0M355.9,359.7h0M350.1,352.7h0M326.3,362.4h0M386.6,371.1h0M369.5,369.3h0M355.3,368.5h0M370.0,358.7h0M346.8,348.7h0M379.1,342.6h0M379.7,355.0h0M374.0,366.0h0M325.9,369.2h0M390.5,354.4h0M373.1,348.6h0M344.6,369.6h0M379.2,368.8h0M386.8,362.8h0M332.4,350.1h0M321.6,366.4h0M391.3,361.1h0M351.9,360.1h0M335.5,362.7h0M362.6,367.7h0M378.1,348.6h0M335.9,350.4h0M343.1,351.4h0M382.6,364.3h0M349.1,366.7h0M361.4,360.6h0M341.8,355.2h0M352.0,346.8h0M368.3,363.7h0M359.0,365.0h0M397.4,359.5h0M354.1,351.0h0M346.4,355.1h0M328.4,354.7h0M361.6,350.3h0M338.8,361.5h0M345.4,363.7h0M395.7,342.9h0M344.1,358.6h0M366.0,345.2h0M328.5,359.5h0M374.5,344.1h0M379.7,374.1h0M375.3,354.4h0M373.3,357.2h0M370.8,352.8h0M328.7,348.9h0M341.4,367.9h0M366.0,350.3h0M380.0,362.3h0M388.6,365.4h0M322.4,358.0h0M364.0,372.8h0M374.1,360.4h0M396.3,355.5h0M359.5,371.5h0M399.1,348.9h0M392.3,344.7h0M332.2,385.4h0M335.9,384.6h0M308.3,386.4h0M325.4,389.7h0M313.9,379.6h0M327.4,376.0h0M325.1,382.4h0M318.5,382.4h0M324.2,379.2h0M305.0,377.6h0M310.4,380.5h0M328.6,384.1h0M312.1,375.5h0M303.0,386.4h0M306.5,374.1h0M299.8,384.2h0M315.1,392.0h0M316.5,389.1h0M331.0,378.1h0M319.2,386.1h0M328.9,388.8h0M321.9,383.3h0M306.1,397.0h0M353.1,374.2h0M312.6,370.6h0M389.0,374.8h0M343.5,377.0h0M360.6,378.2h0M345.5,392.0h0M327.9,385.8h0M339.8,373.1h0M361.5,392.3h0M365.0,376.0h0M341.5,395.1h0M388.1,381.0h0M351.7,393.7h0M299.0,392.4h0M346.1,387.5h0M360.7,386.0h0M329.9,376.3h0M318.9,380.6h0M367.8,385.7h0M383.5,380.7h0M318.4,371.7h0M377.4,392.9h0M332.6,393.7h0M296.9,383.4h0M392.5,379.5h0M340.5,380.9h0M317.6,395.2h0M320.8,385.3h0M331.3,381.5h0M351.5,379.0h0M325.1,375.8h0M375.2,378.8h0M353.9,388.3h0M309.8,400.9h0M316.5,403.6h0M335.3,407.6h0M341.1,411.8h0M345.8,409.1h0M354.4,407.3h0M353.1,400.9h0M345.3,416.4h0M357.1,414.2h0M365.3,413.1h0M339.3,419.1h0M352.5,421.8h0M353.1,427.3h0M336.2,434.0h0M334.4,438.2h0M313.5,438.2h0M425.3,312.1h0M418.0,354.5h0M404.4,394.8h0M406.7,409.4h0M387.1,391.2h0M382.5,398.5h0M384.0,401.7h0M406.5,409.5h0M385.3,420.5h0M384.0,401.8h0" fill="none" stroke="#cbcbcb" stroke-width="4.9" stroke-linecap="round"/>
<path d="M443.5,150.9h0M445.3,146.3h0M438.0,149.7h0M438.6,143.4h0M437.9,152.8h0M445.9,152.8h0M439.9,146.8h0M447.1,149.8h0M442.8,144.2h0M441.3,152.9h0M436.7,162.0h0M446.4,157.3h0M434.1,205.0h0M434.6,177.5h0M437.5,209.6h0M432.4,185.6h0M439.5,171.1h0M431.3,198.6h0M431.8,192.5h0M431.5,181.4h0M435.6,173.3h0M422.1,210.2h0M437.6,216.8h0M440.1,212.3h0M436.5,206.4h0M426.3,208.5h0M441.6,205.9h0M432.4,210.1h0M422.9,204.5h0M427.3,212.1h0M429.1,215.8h0M427.6,205.0h0M424.0,214.1h0M433.2,216.5h0M436.4,211.6h0M431.6,204.9h0M441.3,215.8h0M420.8,216.1h0M433.8,241.9h0M437.3,221.3h0M435.2,237.0h0M435.3,233.5h0M436.7,229.5h0M437.9,225.2h0M436.4,240.1h0M435.5,244.6h0M398.4,208.8h0M433.9,244.0h0M431.9,236.8h0M406.7,215.1h0M393.0,212.5h0M389.8,207.0h0M434.8,240.0h0M429.9,233.1h0M421.3,227.8h0M388.4,196.0h0M418.0,224.3h0M393.2,195.2h0M392.7,204.9h0M404.0,219.2h0M424.9,230.4h0M413.2,218.5h0M397.5,205.0h0M415.3,229.8h0M425.6,235.1h0M429.3,244.5h0M393.6,199.2h0M409.8,223.3h0M401.2,211.7h0M426.9,240.6h0M418.8,233.1h0M401.1,216.9h0M394.9,209.1h0M412.0,227.0h0M397.4,212.3h0M416.5,220.9h0M388.0,201.3h0M423.8,238.8h0M396.9,216.5h0M413.4,223.3h0M430.3,248.0h0M409.8,217.0h0M437.5,243.2h0M421.5,235.9h0M431.2,240.3h0M407.9,220.4h0M396.6,201.5h0M379.1,202.7h0M384.0,204.5h0M390.9,195.8h0M389.1,188.2h0M387.3,175.5h0M395.5,167.3h0M400.9,167.6h0M401.5,174.9h0M372.7,213.6h0M379.1,208.2h0M373.6,225.5h0M377.3,224.5h0M380.0,228.2h0M374.5,229.1h0M388.2,218.2h0M390.9,220.9h0M392.7,224.5h0M389.1,226.4h0M387.3,229.1h0M391.8,228.2h0M382.7,206.2h0M378.2,239.0h0M370.5,246.8h0M377.7,232.9h0M376.0,242.5h0M380.5,215.7h0M382.7,209.9h0M376.7,218.8h0M383.7,214.2h0M375.1,227.9h0M380.9,221.1h0M377.2,222.9h0M372.4,242.3h0M374.7,246.8h0M375.0,237.0h0M378.3,226.3h0M386.3,210.6h0M373.3,269.5h0M367.2,251.1h0M371.4,247.8h0M371.7,264.0h0M371.4,250.9h0M368.2,255.1h0M374.5,252.2h0M368.6,261.8h0M364.9,266.7h0M364.9,255.1h0M369.0,271.7h0M370.4,266.7h0M372.4,255.6h0M361.6,270.5h0M370.2,258.2h0M373.5,260.6h0M364.0,263.4h0M366.8,258.2h0M366.1,272.5h0M368.2,246.5h0M372.7,273.0h0M374.6,248.4h0M364.3,260.3h0M367.8,268.5h0M367.5,264.7h0M362.0,267.3h0M373.6,266.3h0M367.0,281.6h0M368.9,273.9h0M368.6,287.0h0M369.8,284.1h0M367.4,277.1h0M368.6,290.5h0M365.6,287.6h0M372.1,276.4h0M359.8,277.0h0M373.1,280.1h0M359.6,288.6h0M362.7,273.4h0M360.9,282.7h0M363.2,285.2h0M369.7,279.8h0M364.5,278.8h0M357.7,284.3h0M372.1,288.4h0M358.7,279.9h0M362.8,288.9h0M366.4,284.7h0M372.6,283.1h0M365.7,273.7h0M373.8,273.8h0M353.6,296.6h0M357.3,297.0h0M360.5,307.2h0M353.8,305.5h0M358.7,312.9h0M362.6,310.6h0M364.8,312.9h0M357.2,308.3h0M368.8,314.2h0M362.1,303.4h0M360.0,319.2h0M356.8,305.0h0M365.9,317.1h0M358.6,301.8h0M361.7,315.4h0M358.1,315.9h0M365.1,307.1h0M349.4,326.8h0M351.7,331.6h0M350.2,338.1h0M351.6,323.3h0M355.2,336.9h0M346.0,327.9h0M347.4,331.2h0M345.8,322.2h0M352.3,328.2h0M352.2,334.7h0M354.7,333.0h0M372.7,324.8h0M360.0,333.0h0M340.0,333.9h0M344.5,341.2h0M356.4,345.2h0M361.8,344.8h0M330.9,350.3h0M337.3,350.3h0M334.5,358.5h0M340.0,360.8h0M346.9,361.7h0M328.2,364.8h0M323.6,371.2h0M350.9,372.1h0M348.2,378.5h0M327.3,385.7h0M347.3,393.0h0M365.5,396.3h0M320.9,397.2h0M328.2,398.1h0M387.3,323.0h0M390.0,321.7h0M394.9,324.8h0M401.5,331.5h0M370.5,304.8h0M370.0,314.8h0M348.2,418.2h0" fill="none" stroke="#0c81cc" stroke-width="5.2" stroke-linecap="round"/>
<path d="M660.4,256.2h0M637.7,256.2h0M676.9,257.0h0M661.6,245.4h0M646.6,253.2h0M657.0,185.8h0M656.9,257.6h0M650.3,190.7h0M639.5,245.8h0M662.9,197.7h0M665.7,249.3h0M664.1,174.9h0M671.0,248.4h0M690.6,155.1h0M659.9,200.1h0M663.2,184.1h0M650.5,245.1h0M676.0,254.7h0M670.5,178.9h0M648.8,237.6h0M677.3,176.5h0M662.3,189.6h0M652.6,190.0h0M694.7,151.4h0M640.6,261.8h0M666.7,258.4h0M651.2,251.2h0M660.6,248.9h0M651.6,261.7h0M673.6,200.3h0M681.6,222.1h0M642.8,236.5h0M675.6,248.3h0M666.1,237.9h0M667.6,261.8h0M683.7,227.4h0M677.1,195.0h0M689.9,153.2h0M685.1,224.7h0M675.2,190.0h0M668.8,196.6h0M644.9,257.5h0M670.2,244.4h0M685.5,231.6h0M664.9,255.0h0M696.4,163.9h0M669.9,258.0h0M673.7,258.0h0M664.8,191.1h0M640.4,242.3h0M674.0,245.6h0M647.1,260.7h0M659.3,185.3h0M664.3,181.0h0M669.3,181.4h0M694.2,166.0h0M652.8,256.8h0M678.7,184.6h0M654.9,256.3h0M640.0,249.8h0M662.2,242.8h0M662.4,199.9h0M666.0,203.0h0M680.3,224.6h0M667.8,253.0h0M672.6,254.4h0M680.5,182.8h0M670.8,183.0h0M686.9,229.4h0M655.9,200.8h0M654.4,176.7h0M684.9,219.3h0M663.3,179.0h0M642.0,245.2h0M657.8,200.3h0M674.4,178.4h0M667.8,239.2h0M656.8,191.2h0M681.9,220.0h0M642.9,252.8h0M653.8,174.4h0M651.2,182.9h0M666.4,178.5h0M671.6,251.6h0M644.7,243.5h0M657.3,178.1h0M665.7,198.7h0M690.7,166.7h0M670.6,240.2h0M676.2,198.8h0M641.1,255.2h0M663.3,239.4h0M653.5,188.0h0M662.9,186.6h0M651.4,195.1h0M657.4,234.2h0M649.1,175.5h0M652.2,179.1h0M650.9,185.3h0M655.8,197.0h0M681.5,229.2h0M665.4,187.4h0M675.1,184.9h0M652.4,239.1h0M651.2,258.9h0M636.0,211.3h0M671.8,202.8h0M653.8,195.5h0M657.9,249.3h0M649.5,253.4h0M676.4,180.9h0M654.5,184.2h0M654.4,253.8h0M633.1,209.7h0M656.5,260.0h0M655.4,182.0h0M669.0,193.3h0M658.7,246.6h0M673.6,195.8h0M671.6,192.9h0M668.1,185.2h0M685.6,217.0h0M673.4,183.6h0M655.1,238.8h0M657.9,175.7h0M691.2,162.6h0M664.4,252.7h0M694.3,157.7h0M643.4,250.2h0M690.1,159.6h0M696.0,154.8h0M656.0,235.7h0M633.7,273.7h0M635.2,288.6h0M662.7,283.4h0M666.9,277.0h0M654.5,266.8h0M649.8,284.9h0M657.1,329.8h0M629.5,303.1h0M653.7,287.2h0M643.9,334.8h0M643.9,284.1h0M658.4,308.5h0M647.6,314.3h0M652.4,335.8h0M672.7,273.0h0M642.1,265.2h0M660.9,275.7h0M640.8,312.3h0M663.5,275.3h0M644.9,266.6h0M658.9,285.8h0M632.5,298.0h0M666.5,267.7h0M666.8,263.4h0M644.8,311.0h0M649.5,290.3h0M667.8,299.7h0M638.0,267.7h0M669.2,285.0h0M659.4,300.0h0M660.1,268.7h0M639.8,281.7h0M625.3,335.1h0M638.6,299.0h0M638.5,317.6h0M667.7,292.9h0M622.4,340.7h0M639.8,333.5h0M662.2,300.1h0M659.8,280.7h0M664.1,296.1h0M654.5,264.1h0M635.5,291.3h0M634.2,299.9h0M650.5,303.5h0M654.0,333.6h0M656.8,326.0h0M650.3,340.3h0M666.5,272.8h0M641.6,289.5h0M652.2,289.3h0M651.6,332.3h0M650.5,306.1h0M643.6,331.8h0M640.9,273.4h0M652.0,314.2h0M655.4,275.4h0M648.5,274.8h0M636.6,269.8h0M643.9,314.5h0M661.7,313.4h0M660.7,309.5h0M648.1,269.8h0M637.9,263.6h0M613.5,338.6h0M647.5,293.0h0M634.1,295.4h0M631.7,340.5h0M659.4,318.5h0M655.2,294.4h0M640.3,296.5h0M648.7,319.1h0M635.7,306.2h0M639.8,293.8h0M664.2,310.1h0M651.4,316.6h0M654.5,271.0h0M654.7,284.7h0M647.2,267.5h0M641.0,269.3h0M643.9,301.7h0M642.0,286.2h0M651.5,300.7h0M671.9,270.5h0M643.4,338.4h0M645.0,288.1h0M650.8,328.8h0M637.9,273.5h0M613.7,334.9h0M660.1,288.1h0M650.3,324.6h0M646.7,281.5h0M657.3,264.2h0M621.7,338.1h0M653.4,273.2h0M660.2,293.8h0M641.1,262.1h0M647.7,303.3h0M652.2,297.8h0M658.4,311.4h0M636.6,300.1h0M619.2,343.8h0M673.8,266.9h0M648.9,300.0h0M636.5,282.1h0M666.9,289.3h0M645.6,277.7h0M660.6,324.3h0M629.6,297.9h0M654.2,279.9h0M646.3,290.6h0M664.8,301.3h0M633.1,307.1h0M662.7,304.4h0M641.1,342.6h0M646.8,284.8h0M634.9,277.5h0M639.2,337.0h0M659.9,262.9h0M659.4,327.1h0M640.4,308.8h0M633.5,312.4h0M611.2,340.0h0M652.8,306.9h0M650.0,292.6h0M653.3,310.8h0M645.3,270.8h0M663.5,269.6h0M656.9,305.1h0M636.9,285.0h0M642.0,304.1h0M663.0,280.0h0M634.0,336.6h0M657.9,272.1h0M667.1,280.4h0M646.8,296.6h0M640.1,315.6h0M636.5,314.8h0M675.3,262.5h0M617.1,338.8h0M670.8,268.4h0M661.8,291.0h0M630.3,334.4h0M646.4,263.8h0M660.2,296.3h0M639.3,276.0h0M653.8,330.5h0M576.9,355.4h0M652.9,276.5h0M646.0,333.4h0M655.3,301.3h0M636.7,279.5h0M635.2,308.6h0M671.0,281.1h0M669.5,263.9h0M658.7,322.4h0M652.5,283.3h0M644.4,295.1h0M670.6,290.8h0M673.3,275.4h0M654.6,297.8h0M652.4,338.8h0M665.1,298.2h0M611.8,344.7h0M652.5,323.5h0M644.6,305.6h0M655.9,313.1h0M656.3,318.0h0M655.7,309.2h0M668.3,287.2h0M642.8,299.5h0M672.4,262.0h0M638.3,290.1h0M625.1,339.9h0M648.4,330.1h0M657.4,314.9h0M653.0,321.0h0M618.8,341.0h0M646.6,341.5h0M633.6,333.9h0M634.4,284.8h0M636.0,332.9h0M656.5,291.4h0M662.7,315.6h0M662.0,318.5h0M639.3,303.0h0M653.6,304.7h0M657.2,267.8h0M579.4,355.0h0M656.1,288.7h0M638.5,342.3h0M631.9,309.7h0M638.5,310.3h0M642.9,307.2h0M651.7,309.0h0M670.2,272.3h0M660.1,265.3h0M640.1,340.3h0M651.2,265.6h0M637.2,287.3h0M573.4,359.7h0M649.6,321.6h0M638.9,270.9h0M639.3,285.3h0M650.3,295.1h0M646.2,300.4h0M639.0,279.3h0M647.9,306.0h0M650.3,311.5h0M643.9,275.7h0M641.1,317.7h0M657.3,296.1h0M664.2,289.0h0M668.6,269.2h0M663.6,263.1h0M653.8,318.6h0M637.8,296.5h0M657.2,320.5h0M671.6,277.9h0M631.5,336.7h0M637.1,338.7h0M657.6,279.1h0M667.4,296.3h0M672.1,284.1h0M643.5,292.9h0M641.0,256.5h0M643.2,266.3h0M655.5,276.9h0M637.3,281.9h0M653.1,283.3h0M660.0,267.6h0M643.9,271.3h0M635.0,284.0h0M656.8,310.9h0M662.8,304.3h0M646.1,283.8h0M639.8,245.5h0M639.4,296.0h0M660.0,259.7h0M666.0,292.9h0M643.0,241.9h0M643.1,285.7h0M644.7,297.4h0M658.0,290.5h0M634.7,312.0h0M642.5,245.8h0M669.3,276.1h0M666.7,279.2h0M672.7,249.4h0M675.4,256.4h0M636.6,260.6h0M645.4,239.7h0M658.7,243.0h0M634.5,308.9h0M668.2,243.0h0M642.6,259.8h0M659.6,270.1h0M659.9,299.1h0M656.5,243.6h0M657.5,266.2h0M644.8,300.4h0M669.2,293.2h0M656.8,240.5h0M651.6,315.9h0M655.3,299.0h0M640.2,331.0h0M636.9,289.9h0M635.4,270.1h0M639.6,293.4h0M647.5,308.7h0M653.8,269.0h0M654.3,247.6h0M657.8,315.4h0M656.5,283.4h0M670.6,255.5h0M642.6,239.7h0M639.0,260.8h0M662.9,288.5h0M651.9,279.2h0M646.5,279.4h0M649.9,305.1h0M651.8,259.8h0M655.1,309.4h0M660.5,290.0h0M643.1,274.8h0M651.7,267.5h0M637.9,256.4h0M654.6,324.3h0M630.9,305.9h0M657.3,285.9h0M633.2,299.8h0M660.4,295.6h0M649.6,252.8h0M658.7,249.4h0M648.7,271.5h0M632.4,304.0h0M660.7,238.3h0M643.0,262.9h0M645.1,329.7h0M657.8,252.8h0M660.4,310.5h0M648.2,246.6h0M670.3,281.8h0M659.9,245.3h0M673.8,244.5h0M669.1,269.9h0M666.6,300.2h0M661.6,271.6h0M650.5,295.7h0M662.9,269.6h0M667.5,257.3h0M653.1,273.6h0M639.9,276.4h0M639.4,258.5h0M643.3,331.8h0M667.7,274.2h0M649.1,249.2h0M648.3,263.7h0M655.6,331.1h0M666.5,282.0h0M641.7,316.7h0M640.0,273.1h0M663.8,280.3h0M645.8,303.9h0M650.5,242.5h0M656.4,271.6h0M638.6,371.1h0M631.1,342.6h0M631.7,355.0h0M626.0,366.0h0M642.5,354.4h0M625.1,348.6h0M631.2,368.8h0M638.8,362.8h0M643.3,361.1h0M630.1,348.6h0M634.6,364.3h0M649.4,359.5h0M580.4,354.7h0M647.7,342.9h0M618.0,345.2h0M580.5,359.5h0M626.5,344.1h0M631.7,374.1h0M627.3,354.4h0M632.0,362.3h0M640.6,365.4h0M574.4,358.0h0M626.1,360.4h0M648.3,355.5h0M651.1,348.9h0M644.3,344.7h0M641.0,374.8h0" fill="none" stroke="#cbcbcb" stroke-width="4.9" stroke-linecap="round"/>
<path d="M674.4,176.3h0M645.4,165.2h0M667.6,169.2h0M690.3,174.1h0M651.6,174.5h0M641.8,180.5h0M682.7,168.6h0M677.1,171.7h0M647.3,170.9h0M675.9,174.3h0M677.9,176.7h0M699.1,146.6h0M639.7,181.3h0M686.8,165.6h0M692.3,166.1h0M690.9,164.0h0M662.2,168.2h0M689.0,168.6h0M643.3,168.8h0M689.2,156.5h0M691.8,144.3h0M689.5,180.8h0M649.0,176.0h0M643.7,183.2h0M696.2,149.5h0M655.3,178.4h0M689.4,171.0h0M647.7,179.1h0M661.8,165.6h0M672.9,171.5h0M651.4,178.0h0M651.5,182.9h0M684.6,179.4h0M695.9,154.9h0M679.8,172.8h0M692.5,148.4h0M643.4,178.5h0M649.1,165.4h0M643.3,190.5h0M670.8,173.6h0M659.0,173.4h0M655.4,172.5h0M668.1,171.8h0M666.3,173.9h0M681.8,165.0h0M675.2,170.1h0M689.7,153.0h0M693.1,175.8h0M662.4,174.8h0M688.8,150.1h0M678.4,174.6h0M680.8,167.4h0M688.3,159.6h0M641.4,177.5h0M680.0,170.1h0M648.3,184.4h0M645.0,173.7h0M683.6,172.9h0M682.8,177.9h0M686.2,168.5h0M690.8,178.9h0M693.9,153.6h0M690.8,185.2h0M653.5,164.0h0M694.9,161.5h0M646.3,182.9h0M689.6,176.2h0M656.6,167.0h0M661.2,172.2h0M649.1,173.8h0M657.9,163.7h0M691.7,181.9h0M656.7,170.6h0M650.2,179.8h0M698.3,150.6h0M643.3,186.9h0M676.1,167.0h0M696.6,146.0h0M657.4,175.2h0M695.8,167.2h0M687.1,161.4h0M691.5,150.7h0M687.4,182.4h0M639.8,190.4h0M641.2,185.5h0M693.0,146.1h0M645.4,177.5h0M659.4,171.0h0M685.3,163.9h0M653.7,170.6h0M694.4,164.0h0M682.0,175.2h0M685.9,171.9h0M642.8,175.1h0M646.4,188.2h0M694.4,182.2h0M659.2,165.7h0M685.9,174.9h0M650.1,171.4h0M682.5,246.2h0M683.9,234.3h0M681.5,233.4h0M679.5,242.4h0M676.6,232.2h0M675.9,240.6h0M688.1,247.9h0M681.9,237.2h0M683.6,243.8h0M688.4,237.1h0M684.4,240.0h0M674.9,234.1h0M685.6,231.9h0M671.6,185.7h0M683.4,179.3h0M687.3,197.9h0M676.4,192.2h0M651.1,183.7h0M646.4,182.5h0M668.2,192.9h0M667.2,202.4h0M671.9,200.5h0M652.1,195.2h0M685.2,182.6h0M693.9,199.0h0M661.9,185.7h0M682.7,191.4h0M659.4,194.0h0M647.6,186.4h0M647.1,191.8h0M681.6,197.9h0M648.3,195.8h0M689.0,188.0h0M668.1,183.7h0M663.7,195.2h0M663.6,188.9h0M664.9,176.7h0M676.8,175.0h0M668.7,189.0h0M679.7,201.0h0M675.5,202.8h0M650.1,190.0h0M691.4,183.1h0M654.5,220.4h0M636.2,196.7h0M649.7,204.2h0M623.4,216.0h0M685.1,204.0h0M642.0,195.3h0M644.6,211.5h0M629.8,210.9h0M632.0,221.1h0M663.9,217.0h0M683.7,217.1h0M643.9,199.8h0M668.7,209.0h0M679.1,210.2h0M685.6,215.6h0M672.8,209.0h0M695.4,211.2h0M664.1,206.9h0M671.4,216.6h0M680.8,212.1h0M676.9,206.0h0M661.8,227.3h0M630.6,214.2h0M649.8,199.2h0M685.7,207.7h0M639.5,224.6h0M662.1,219.6h0M692.9,211.2h0M681.0,203.8h0M632.1,203.2h0M663.0,213.8h0M664.5,226.7h0M657.8,223.9h0M647.0,216.9h0M674.9,213.1h0M626.3,210.6h0M645.2,221.8h0M680.2,206.3h0M640.4,209.7h0M697.8,209.4h0M643.3,223.7h0M661.3,203.9h0M635.3,219.1h0M653.4,203.5h0M627.2,205.8h0M652.4,225.3h0M637.7,199.0h0M657.3,213.2h0M629.2,203.6h0M626.5,218.3h0M636.2,207.3h0M637.1,204.9h0M633.7,214.9h0M657.4,204.9h0M665.6,212.9h0M652.1,217.8h0M655.7,202.7h0M635.3,199.8h0M638.7,221.5h0M663.4,223.0h0M638.6,207.8h0M625.5,214.9h0M628.6,199.7h0M687.4,211.4h0M667.1,224.3h0M635.5,203.0h0M688.1,214.2h0M629.7,206.0h0M623.4,219.4h0M645.3,207.7h0M678.9,216.5h0M637.8,212.7h0M667.6,218.8h0M689.8,216.6h0M633.5,197.9h0M640.6,198.9h0M667.1,204.2h0M647.1,205.6h0M631.6,218.5h0M689.8,202.9h0M654.3,208.7h0M676.5,215.5h0M677.0,219.6h0M681.4,208.9h0M650.6,206.5h0M671.8,214.2h0M656.7,208.5h0M660.8,217.4h0M659.0,220.3h0M629.1,219.1h0M633.2,208.8h0M674.7,218.4h0M648.2,201.2h0M645.8,226.5h0M644.5,202.3h0M683.8,212.3h0M649.6,212.5h0M640.6,201.5h0M626.9,220.9h0M654.0,213.4h0M690.5,207.4h0M674.5,230.9h0M647.8,234.8h0M665.8,232.9h0M689.2,241.9h0M682.1,231.4h0M655.9,232.2h0M674.2,226.8h0M680.9,246.0h0M646.8,228.9h0M639.0,229.8h0M637.5,225.6h0M667.6,228.7h0M688.0,225.7h0M653.8,228.8h0M643.1,230.6h0M678.6,228.6h0M690.8,224.4h0M662.1,232.8h0M681.8,243.0h0M658.8,231.4h0M682.2,220.7h0M681.5,237.7h0M668.6,235.9h0M685.2,238.1h0M688.4,230.2h0M689.9,233.9h0M679.1,233.5h0M650.6,228.2h0M671.6,231.4h0M686.3,233.5h0M675.6,239.4h0M689.1,219.2h0M646.7,232.0h0M686.2,220.9h0M671.2,221.2h0M678.8,222.6h0M671.6,224.8h0M686.4,245.7h0M675.7,224.4h0M625.6,232.2h0M624.9,227.5h0M630.0,261.8h0M633.9,242.4h0M632.4,260.4h0M630.8,244.6h0M619.6,246.6h0M628.5,216.0h0M638.6,231.4h0M626.3,234.9h0M619.1,268.6h0M621.3,259.8h0M623.9,272.0h0M615.0,270.5h0M622.8,254.1h0M629.5,226.3h0M636.3,235.9h0M626.7,218.1h0M619.4,250.3h0M628.9,238.8h0M622.6,250.9h0M628.6,266.7h0M623.4,261.3h0M629.3,219.0h0M631.4,250.7h0M627.1,262.8h0M636.2,246.9h0M626.2,239.2h0M620.5,236.6h0M631.9,271.4h0M621.5,230.1h0M628.1,257.8h0M625.7,248.3h0M625.0,256.9h0M634.1,233.4h0M628.6,251.9h0M629.6,231.2h0M624.9,266.3h0M630.8,264.7h0M616.5,264.0h0M622.2,267.3h0M615.9,267.2h0M634.6,254.4h0M626.7,222.7h0M635.4,244.4h0M616.0,272.8h0M629.9,254.9h0M621.4,240.7h0M625.6,242.4h0M636.7,229.9h0M615.4,261.9h0M634.1,229.3h0M622.6,225.5h0M621.2,232.6h0M631.0,221.9h0M634.4,239.0h0M631.2,234.7h0M617.3,260.3h0M623.8,246.7h0M629.0,270.1h0M620.6,263.8h0M633.9,248.6h0M627.3,255.0h0M627.0,260.2h0M628.1,245.7h0M623.4,217.5h0M632.1,253.4h0M619.8,257.7h0M625.9,251.0h0M628.7,248.9h0M618.8,253.3h0M621.0,270.6h0M635.2,225.2h0M627.2,225.2h0M625.6,214.2h0M623.9,220.3h0M634.3,258.4h0M638.6,234.3h0M630.9,241.1h0M623.5,222.7h0M624.8,320.9h0M618.7,325.4h0M591.0,385.2h0M609.4,282.8h0M602.6,375.6h0M607.5,295.4h0M609.4,306.6h0M590.3,370.7h0M609.2,322.5h0M632.1,322.7h0M625.0,299.7h0M615.2,289.0h0M580.4,365.2h0M611.6,308.8h0M596.1,360.7h0M620.1,327.4h0M610.5,299.1h0M613.8,280.8h0M592.9,339.1h0M607.6,334.0h0M601.6,359.5h0M605.7,329.6h0M612.2,320.6h0M615.0,342.9h0M627.8,294.8h0M583.4,359.3h0M629.7,278.8h0M646.6,327.9h0M616.1,295.7h0M604.7,310.2h0M591.5,381.3h0M611.5,343.4h0M600.2,354.5h0M613.6,333.4h0M630.6,324.9h0M588.3,369.5h0M584.6,377.2h0M597.9,368.2h0M587.2,355.1h0M624.6,327.0h0M602.0,335.8h0M615.9,309.0h0M627.7,287.4h0M636.0,321.3h0M603.8,340.8h0M588.8,377.5h0M580.9,371.9h0M622.8,322.5h0M585.4,373.9h0M590.7,344.7h0M602.1,352.0h0M595.4,357.2h0M598.9,364.6h0M649.0,324.2h0M593.7,368.7h0M630.7,274.3h0M595.3,342.4h0M592.2,349.8h0M620.7,331.3h0M580.0,369.5h0M606.9,308.4h0M603.9,359.2h0M613.5,310.8h0M600.3,328.5h0M583.8,367.2h0M623.1,313.8h0M628.9,322.5h0M612.8,315.1h0M606.8,351.3h0M599.7,385.3h0M613.5,287.0h0M601.0,361.9h0M612.8,325.7h0M610.8,327.9h0M647.5,331.3h0M622.0,287.7h0M610.2,280.2h0M615.2,340.0h0M636.1,329.2h0M601.2,339.7h0M589.6,382.8h0M596.8,333.3h0M620.9,305.2h0M598.5,379.6h0M596.9,371.1h0M594.1,344.8h0M610.4,318.1h0M618.7,337.0h0M605.4,337.9h0M611.2,288.0h0M620.2,279.7h0M649.2,327.9h0M584.1,386.5h0M603.0,333.5h0M622.6,300.1h0M638.7,331.2h0M615.8,316.1h0M587.3,375.3h0M627.4,305.9h0M614.2,299.8h0M587.0,345.2h0M617.6,279.0h0M628.2,285.0h0M634.2,324.1h0M619.6,290.1h0M585.6,381.3h0M610.1,333.3h0M594.1,348.4h0M627.3,312.9h0M592.8,365.3h0M623.4,274.1h0M601.3,373.4h0M642.5,333.3h0M621.6,277.9h0M621.6,320.1h0M606.2,318.7h0M607.7,302.5h0M588.4,362.6h0M620.4,274.1h0M628.0,327.4h0M617.4,284.2h0M606.7,365.4h0M617.1,276.2h0M649.6,320.8h0M629.6,318.7h0M623.8,292.9h0M627.8,316.1h0M606.5,360.8h0M607.6,288.2h0M624.7,282.7h0M587.0,359.8h0M603.6,346.2h0M629.8,334.4h0M593.2,375.8h0M611.1,293.6h0M594.4,335.7h0M642.8,323.5h0M620.9,285.1h0M602.0,370.6h0M618.4,294.9h0M627.6,274.3h0M618.6,292.2h0M600.7,319.7h0M625.0,336.2h0M584.7,354.8h0M595.5,378.2h0M600.7,368.5h0M596.7,374.4h0M623.8,329.3h0M610.8,330.7h0M621.2,315.4h0M622.0,337.3h0M637.4,326.2h0M582.2,363.1h0M595.8,329.6h0M595.1,354.6h0M643.4,326.4h0M599.7,370.9h0M598.2,382.1h0M624.8,324.1h0M608.2,313.2h0M613.8,328.5h0M639.8,322.8h0M605.9,370.3h0M630.2,287.5h0M617.1,321.2h0M619.6,308.2h0M615.7,302.4h0M613.3,336.1h0M609.8,338.6h0M635.6,331.4h0M608.0,315.9h0M597.6,323.8h0M598.2,351.7h0M601.5,347.5h0M617.7,329.1h0M622.0,295.6h0M593.6,361.7h0M629.9,330.8h0M617.2,298.7h0M595.2,380.5h0M607.9,345.3h0M606.7,306.0h0M615.3,292.8h0M600.1,337.1h0M606.1,363.1h0M597.9,341.5h0M587.9,365.2h0M604.9,315.0h0M622.1,282.8h0M617.5,306.8h0M597.9,349.3h0M624.1,278.7h0M586.0,384.9h0M606.2,324.1h0M626.1,332.9h0M585.6,369.1h0M619.7,312.6h0M598.6,376.6h0M586.5,349.5h0M617.8,311.2h0M604.4,304.2h0M603.3,329.6h0M603.2,325.6h0M606.8,327.5h0M597.9,335.6h0M623.5,316.5h0M598.5,346.3h0M626.8,318.5h0M623.3,304.4h0M608.5,324.9h0M608.8,353.2h0M625.6,310.4h0M594.4,383.5h0M619.5,333.7h0M590.0,352.6h0M599.7,344.0h0M625.3,289.9h0M600.8,378.8h0M591.1,357.2h0M625.3,297.1h0M628.4,299.5h0M614.7,277.6h0M594.2,371.2h0M603.2,355.0h0M588.6,343.5h0M602.3,383.2h0M615.6,326.8h0M633.0,330.8h0M629.4,311.7h0M622.9,290.2h0M610.3,302.8h0M620.7,310.4h0M590.7,375.0h0M625.0,287.2h0M603.9,372.9h0M587.8,372.8h0M603.1,380.4h0M588.1,380.7h0M626.6,302.1h0M608.5,293.1h0M607.3,299.3h0M591.2,360.5h0M638.9,319.5h0M587.3,351.8h0M601.7,315.6h0M595.7,350.5h0M607.2,321.1h0M614.6,273.0h0M582.8,369.9h0M618.9,286.7h0M621.9,307.8h0M611.7,276.8h0M645.3,332.3h0M629.1,291.4h0M610.9,348.4h0M650.1,332.2h0M600.7,323.7h0M588.6,357.9h0M615.5,318.6h0M607.2,339.5h0M615.7,324.3h0M610.0,346.1h0M569.5,383.1h0M566.4,387.4h0M567.7,379.3h0M568.5,376.2h0M565.0,376.2h0M563.4,380.3h0M563.4,386.3h0M566.8,382.6h0M573.1,375.5h0M579.6,385.9h0M613.6,354.1h0M621.3,357.4h0M619.1,347.5h0M613.6,344.8h0M616.4,376.6h0M612.0,372.3h0M618.2,341.9h0M633.9,337.9h0M625.7,334.9h0M620.5,339.8h0M618.8,336.1h0M625.4,339.2h0M633.7,340.7h0M630.0,337.2h0M631.5,342.5h0M621.9,343.1h0M628.0,344.4h0M612.0,372.1h0M616.0,376.6h0M553.8,394.8h0M562.0,393.5h0M567.5,393.0h0M573.5,397.2h0M580.2,398.1h0M599.6,393.4h0M607.5,392.1h0M614.2,390.3h0M617.8,396.3h0M653.5,391.5h0M671.5,367.2h0M634.2,414.5h0M621.1,357.2h0M613.8,353.0h0M599.3,361.5h0M653.5,331.5h0M600.5,418.2h0M607.5,423.3h0M622.5,425.1h0M634.2,415.1h0M670.7,431.3h0M607.5,440.9h0M606.9,442.2h0M660.2,452.7h0M655.6,466.4h0M609.1,470.4h0M580.2,400.0h0M636.5,555.5h0M636.5,561.5h0M627.8,584.2h0M625.3,600.0h0M623.5,603.6h0" fill="none" stroke="#0c81cc" stroke-width="5.2" stroke-linecap="round"/>
<path d="M913.4,256.2h0M890.7,256.2h0M929.9,257.0h0M914.6,245.4h0M899.6,253.2h0M910.0,185.8h0M909.9,257.6h0M903.3,190.7h0M892.5,245.8h0M915.9,197.7h0M918.7,249.3h0M917.1,174.9h0M924.0,248.4h0M943.6,155.1h0M912.9,200.1h0M916.2,184.1h0M903.5,245.1h0M929.0,254.7h0M923.5,178.9h0M901.8,237.6h0M930.3,176.5h0M915.3,189.6h0M905.6,190.0h0M947.7,151.4h0M893.6,261.8h0M919.7,258.4h0M904.2,251.2h0M913.6,248.9h0M904.6,261.7h0M926.6,200.3h0M934.6,222.1h0M895.8,236.5h0M928.6,248.3h0M919.1,237.9h0M920.6,261.8h0M936.7,227.4h0M930.1,195.0h0M942.9,153.2h0M938.1,224.7h0M928.2,190.0h0M921.8,196.6h0M897.9,257.5h0M923.2,244.4h0M938.5,231.6h0M917.9,255.0h0M949.4,163.9h0M922.9,258.0h0M926.7,258.0h0M917.8,191.1h0M893.4,242.3h0M927.0,245.6h0M900.1,260.7h0M912.3,185.3h0M917.3,181.0h0M922.3,181.4h0M947.2,166.0h0M905.8,256.8h0M931.7,184.6h0M907.9,256.3h0M893.0,249.8h0M915.2,242.8h0M915.4,199.9h0M919.0,203.0h0M933.3,224.6h0M920.8,253.0h0M925.6,254.4h0M933.5,182.8h0M923.8,183.0h0M939.9,229.4h0M908.9,200.8h0M907.4,176.7h0M937.9,219.3h0M916.3,179.0h0M895.0,245.2h0M910.8,200.3h0M927.4,178.4h0M920.8,239.2h0M909.8,191.2h0M934.9,220.0h0M895.9,252.8h0M906.8,174.4h0M904.2,182.9h0M919.4,178.5h0M924.6,251.6h0M897.7,243.5h0M910.3,178.1h0M918.7,198.7h0M943.7,166.7h0M923.6,240.2h0M929.2,198.8h0M894.1,255.2h0M916.3,239.4h0M906.5,188.0h0M915.9,186.6h0M904.4,195.1h0M910.4,234.2h0M902.1,175.5h0M905.2,179.1h0M903.9,185.3h0M908.8,197.0h0M934.5,229.2h0M918.4,187.4h0M928.1,184.9h0M905.4,239.1h0M904.2,258.9h0M889.0,211.3h0M924.8,202.8h0M906.8,195.5h0M910.9,249.3h0M902.5,253.4h0M929.4,180.9h0M907.5,184.2h0M907.4,253.8h0M886.1,209.7h0M909.5,260.0h0M908.4,182.0h0M922.0,193.3h0M911.7,246.6h0M926.6,195.8h0M924.6,192.9h0M921.1,185.2h0M938.6,217.0h0M926.4,183.6h0M908.1,238.8h0M910.9,175.7h0M944.2,162.6h0M917.4,252.7h0M947.3,157.7h0M896.4,250.2h0M943.1,159.6h0M949.0,154.8h0M909.0,235.7h0M886.7,273.7h0M888.2,288.6h0M915.7,283.4h0M919.9,277.0h0M907.5,266.8h0M902.8,284.9h0M910.1,329.8h0M882.5,303.1h0M906.7,287.2h0M896.9,334.8h0M896.9,284.1h0M911.4,308.5h0M900.6,314.3h0M905.4,335.8h0M925.7,273.0h0M895.1,265.2h0M913.9,275.7h0M893.8,312.3h0M916.5,275.3h0M897.9,266.6h0M911.9,285.8h0M885.5,298.0h0M919.5,267.7h0M919.8,263.4h0M897.8,311.0h0M902.5,290.3h0M920.8,299.7h0M891.0,267.7h0M922.2,285.0h0M912.4,300.0h0M913.1,268.7h0M892.8,281.7h0M878.3,335.1h0M891.6,299.0h0M891.5,317.6h0M920.7,292.9h0M875.4,340.7h0M892.8,333.5h0M915.2,300.1h0M912.8,280.7h0M917.1,296.1h0M907.5,264.1h0M888.5,291.3h0M887.2,299.9h0M903.5,303.5h0M907.0,333.6h0M909.8,326.0h0M903.3,340.3h0M919.5,272.8h0M894.6,289.5h0M905.2,289.3h0M904.6,332.3h0M903.5,306.1h0M896.6,331.8h0M893.9,273.4h0M905.0,314.2h0M908.4,275.4h0M901.5,274.8h0M889.6,269.8h0M896.9,314.5h0M914.7,313.4h0M913.7,309.5h0M901.1,269.8h0M890.9,263.6h0M866.5,338.6h0M900.5,293.0h0M887.1,295.4h0M884.7,340.5h0M912.4,318.5h0M908.2,294.4h0M893.3,296.5h0M901.7,319.1h0M888.7,306.2h0M892.8,293.8h0M917.2,310.1h0M904.4,316.6h0M907.5,271.0h0M907.7,284.7h0M900.2,267.5h0M894.0,269.3h0M896.9,301.7h0M895.0,286.2h0M904.5,300.7h0M924.9,270.5h0M896.4,338.4h0M898.0,288.1h0M903.8,328.8h0M890.9,273.5h0M866.7,334.9h0M913.1,288.1h0M903.3,324.6h0M899.7,281.5h0M910.3,264.2h0M874.7,338.1h0M906.4,273.2h0M913.2,293.8h0M894.1,262.1h0M900.7,303.3h0M905.2,297.8h0M911.4,311.4h0M889.6,300.1h0M872.2,343.8h0M926.8,266.9h0M901.9,300.0h0M889.5,282.1h0M919.9,289.3h0M898.6,277.7h0M913.6,324.3h0M882.6,297.9h0M907.2,279.9h0M899.3,290.6h0M917.8,301.3h0M886.1,307.1h0M915.7,304.4h0M894.1,342.6h0M899.8,284.8h0M887.9,277.5h0M892.2,337.0h0M912.9,262.9h0M912.4,327.1h0M893.4,308.8h0M886.5,312.4h0M864.2,340.0h0M905.8,306.9h0M903.0,292.6h0M906.3,310.8h0M898.3,270.8h0M916.5,269.6h0M909.9,305.1h0M889.9,285.0h0M895.0,304.1h0M916.0,280.0h0M887.0,336.6h0M910.9,272.1h0M920.1,280.4h0M899.8,296.6h0M893.1,315.6h0M889.5,314.8h0M928.3,262.5h0M870.1,338.8h0M923.8,268.4h0M914.8,291.0h0M883.3,334.4h0M899.4,263.8h0M913.2,296.3h0M892.3,276.0h0M906.8,330.5h0M829.9,355.4h0M905.9,276.5h0M899.0,333.4h0M908.3,301.3h0M889.7,279.5h0M888.2,308.6h0M924.0,281.1h0M922.5,263.9h0M911.7,322.4h0M905.5,283.3h0M897.4,295.1h0M923.6,290.8h0M926.3,275.4h0M907.6,297.8h0M905.4,338.8h0M918.1,298.2h0M864.8,344.7h0M905.5,323.5h0M897.6,305.6h0M908.9,313.1h0M909.3,318.0h0M908.7,309.2h0M921.3,287.2h0M895.8,299.5h0M925.4,262.0h0M891.3,290.1h0M878.1,339.9h0M901.4,330.1h0M910.4,314.9h0M906.0,321.0h0M871.8,341.0h0M899.6,341.5h0M886.6,333.9h0M887.4,284.8h0M889.0,332.9h0M909.5,291.4h0M915.7,315.6h0M915.0,318.5h0M892.3,303.0h0M906.6,304.7h0M910.2,267.8h0M832.4,355.0h0M909.1,288.7h0M891.5,342.3h0M884.9,309.7h0M891.5,310.3h0M895.9,307.2h0M904.7,309.0h0M923.2,272.3h0M913.1,265.3h0M893.1,340.3h0M904.2,265.6h0M890.2,287.3h0M826.4,359.7h0M902.6,321.6h0M891.9,270.9h0M892.3,285.3h0M903.3,295.1h0M899.2,300.4h0M892.0,279.3h0M900.9,306.0h0M903.3,311.5h0M896.9,275.7h0M894.1,317.7h0M910.3,296.1h0M917.2,289.0h0M921.6,269.2h0M916.6,263.1h0M906.8,318.6h0M890.8,296.5h0M910.2,320.5h0M924.6,277.9h0M884.5,336.7h0M890.1,338.7h0M910.6,279.1h0M920.4,296.3h0M925.1,284.1h0M896.5,292.9h0M894.0,256.5h0M896.2,266.3h0M908.5,276.9h0M890.3,281.9h0M906.1,283.3h0M913.0,267.6h0M896.9,271.3h0M888.0,284.0h0M909.8,310.9h0M915.8,304.3h0M899.1,283.8h0M892.8,245.5h0M892.4,296.0h0M913.0,259.7h0M919.0,292.9h0M896.0,241.9h0M896.1,285.7h0M897.7,297.4h0M911.0,290.5h0M887.7,312.0h0M895.5,245.8h0M922.3,276.1h0M919.7,279.2h0M925.7,249.4h0M928.4,256.4h0M889.6,260.6h0M898.4,239.7h0M911.7,243.0h0M887.5,308.9h0M921.2,243.0h0M895.6,259.8h0M912.6,270.1h0M912.9,299.1h0M909.5,243.6h0M910.5,266.2h0M897.8,300.4h0M922.2,293.2h0M909.8,240.5h0M904.6,315.9h0M908.3,299.0h0M893.2,331.0h0M889.9,289.9h0M888.4,270.1h0M892.6,293.4h0M900.5,308.7h0M906.8,269.0h0M907.3,247.6h0M910.8,315.4h0M909.5,283.4h0M923.6,255.5h0M895.6,239.7h0M892.0,260.8h0M915.9,288.5h0M904.9,279.2h0M899.5,279.4h0M902.9,305.1h0M904.8,259.8h0M908.1,309.4h0M913.5,290.0h0M896.1,274.8h0M904.7,267.5h0M890.9,256.4h0M907.6,324.3h0M883.9,305.9h0M910.3,285.9h0M886.2,299.8h0M913.4,295.6h0M902.6,252.8h0M911.7,249.4h0M901.7,271.5h0M885.4,304.0h0M913.7,238.3h0M896.0,262.9h0M898.1,329.7h0M910.8,252.8h0M913.4,310.5h0M901.2,246.6h0M923.3,281.8h0M912.9,245.3h0M926.8,244.5h0M922.1,269.9h0M919.6,300.2h0M914.6,271.6h0M903.5,295.7h0M915.9,269.6h0M920.5,257.3h0M906.1,273.6h0M892.9,276.4h0M892.4,258.5h0M896.3,331.8h0M920.7,274.2h0M902.1,249.2h0M901.3,263.7h0M908.6,331.1h0M919.5,282.0h0M894.7,316.7h0M893.0,273.1h0M916.8,280.3h0M898.8,303.9h0M903.5,242.5h0M909.4,271.6h0M891.6,371.1h0M884.1,342.6h0M884.7,355.0h0M879.0,366.0h0M895.5,354.4h0M878.1,348.6h0M884.2,368.8h0M891.8,362.8h0M896.3,361.1h0M883.1,348.6h0M887.6,364.3h0M902.4,359.5h0M833.4,354.7h0M900.7,342.9h0M871.0,345.2h0M833.5,359.5h0M879.5,344.1h0M884.7,374.1h0M880.3,354.4h0M885.0,362.3h0M893.6,365.4h0M827.4,358.0h0M879.1,360.4h0M901.3,355.5h0M904.1,348.9h0M897.3,344.7h0M894.0,374.8h0" fill="none" stroke="#cbcbcb" stroke-width="4.9" stroke-linecap="round"/>
<path d="M927.4,176.3h0M898.4,165.2h0M920.6,169.2h0M943.3,174.1h0M904.6,174.5h0M894.8,180.5h0M935.7,168.6h0M930.1,171.7h0M900.3,170.9h0M928.9,174.3h0M930.9,176.7h0M952.1,146.6h0M892.7,181.3h0M939.8,165.6h0M945.3,166.1h0M943.9,164.0h0M915.2,168.2h0M942.0,168.6h0M896.3,168.8h0M942.2,156.5h0M944.8,144.3h0M942.5,180.8h0M902.0,176.0h0M896.7,183.2h0M949.2,149.5h0M908.3,178.4h0M942.4,171.0h0M900.7,179.1h0M914.8,165.6h0M925.9,171.5h0M904.4,178.0h0M904.5,182.9h0M937.6,179.4h0M948.9,154.9h0M932.8,172.8h0M945.5,148.4h0M896.4,178.5h0M902.1,165.4h0M896.3,190.5h0M923.8,173.6h0M912.0,173.4h0M908.4,172.5h0M921.1,171.8h0M919.3,173.9h0M934.8,165.0h0M928.2,170.1h0M942.7,153.0h0M946.1,175.8h0M915.4,174.8h0M941.8,150.1h0M931.4,174.6h0M933.8,167.4h0M941.3,159.6h0M894.4,177.5h0M933.0,170.1h0M901.3,184.4h0M898.0,173.7h0M936.6,172.9h0M935.8,177.9h0M939.2,168.5h0M943.8,178.9h0M946.9,153.6h0M943.8,185.2h0M906.5,164.0h0M947.9,161.5h0M899.3,182.9h0M942.6,176.2h0M909.6,167.0h0M914.2,172.2h0M902.1,173.8h0M910.9,163.7h0M944.7,181.9h0M909.7,170.6h0M903.2,179.8h0M951.3,150.6h0M896.3,186.9h0M929.1,167.0h0M949.6,146.0h0M910.4,175.2h0M948.8,167.2h0M940.1,161.4h0M944.5,150.7h0M940.4,182.4h0M892.8,190.4h0M894.2,185.5h0M946.0,146.1h0M898.4,177.5h0M912.4,171.0h0M938.3,163.9h0M906.7,170.6h0M947.4,164.0h0M935.0,175.2h0M938.9,171.9h0M895.8,175.1h0M899.4,188.2h0M947.4,182.2h0M912.2,165.7h0M938.9,174.9h0M903.1,171.4h0M935.5,246.2h0M936.9,234.3h0M934.5,233.4h0M932.5,242.4h0M929.6,232.2h0M928.9,240.6h0M941.1,247.9h0M934.9,237.2h0M936.6,243.8h0M941.4,237.1h0M937.4,240.0h0M927.9,234.1h0M938.6,231.9h0M924.6,185.7h0M936.4,179.3h0M940.3,197.9h0M929.4,192.2h0M904.1,183.7h0M899.4,182.5h0M921.2,192.9h0M920.2,202.4h0M924.9,200.5h0M905.1,195.2h0M938.2,182.6h0M946.9,199.0h0M914.9,185.7h0M935.7,191.4h0M912.4,194.0h0M900.6,186.4h0M900.1,191.8h0M934.6,197.9h0M901.3,195.8h0M942.0,188.0h0M921.1,183.7h0M916.7,195.2h0M916.6,188.9h0M917.9,176.7h0M929.8,175.0h0M921.7,189.0h0M932.7,201.0h0M928.5,202.8h0M903.1,190.0h0M944.4,183.1h0M907.5,220.4h0M889.2,196.7h0M902.7,204.2h0M876.4,216.0h0M938.1,204.0h0M895.0,195.3h0M897.6,211.5h0M882.8,210.9h0M885.0,221.1h0M916.9,217.0h0M936.7,217.1h0M896.9,199.8h0M921.7,209.0h0M932.1,210.2h0M938.6,215.6h0M925.8,209.0h0M948.4,211.2h0M917.1,206.9h0M924.4,216.6h0M933.8,212.1h0M929.9,206.0h0M914.8,227.3h0M883.6,214.2h0M902.8,199.2h0M938.7,207.7h0M892.5,224.6h0M915.1,219.6h0M945.9,211.2h0M934.0,203.8h0M885.1,203.2h0M916.0,213.8h0M917.5,226.7h0M910.8,223.9h0M900.0,216.9h0M927.9,213.1h0M879.3,210.6h0M898.2,221.8h0M933.2,206.3h0M893.4,209.7h0M950.8,209.4h0M896.3,223.7h0M914.3,203.9h0M888.3,219.1h0M906.4,203.5h0M880.2,205.8h0M905.4,225.3h0M890.7,199.0h0M910.3,213.2h0M882.2,203.6h0M879.5,218.3h0M889.2,207.3h0M890.1,204.9h0M886.7,214.9h0M910.4,204.9h0M918.6,212.9h0M905.1,217.8h0M908.7,202.7h0M888.3,199.8h0M891.7,221.5h0M916.4,223.0h0M891.6,207.8h0M878.5,214.9h0M881.6,199.7h0M940.4,211.4h0M920.1,224.3h0M888.5,203.0h0M941.1,214.2h0M882.7,206.0h0M876.4,219.4h0M898.3,207.7h0M931.9,216.5h0M890.8,212.7h0M920.6,218.8h0M942.8,216.6h0M886.5,197.9h0M893.6,198.9h0M920.1,204.2h0M900.1,205.6h0M884.6,218.5h0M942.8,202.9h0M907.3,208.7h0M929.5,215.5h0M930.0,219.6h0M934.4,208.9h0M903.6,206.5h0M924.8,214.2h0M909.7,208.5h0M913.8,217.4h0M912.0,220.3h0M882.1,219.1h0M886.2,208.8h0M927.7,218.4h0M901.2,201.2h0M898.8,226.5h0M897.5,202.3h0M936.8,212.3h0M902.6,212.5h0M893.6,201.5h0M879.9,220.9h0M907.0,213.4h0M943.5,207.4h0M927.5,230.9h0M900.8,234.8h0M918.8,232.9h0M942.2,241.9h0M935.1,231.4h0M908.9,232.2h0M927.2,226.8h0M933.9,246.0h0M899.8,228.9h0M892.0,229.8h0M890.5,225.6h0M920.6,228.7h0M941.0,225.7h0M906.8,228.8h0M896.1,230.6h0M931.6,228.6h0M943.8,224.4h0M915.1,232.8h0M934.8,243.0h0M911.8,231.4h0M935.2,220.7h0M934.5,237.7h0M921.6,235.9h0M938.2,238.1h0M941.4,230.2h0M942.9,233.9h0M932.1,233.5h0M903.6,228.2h0M924.6,231.4h0M939.3,233.5h0M928.6,239.4h0M942.1,219.2h0M899.7,232.0h0M939.2,220.9h0M924.2,221.2h0M931.8,222.6h0M924.6,224.8h0M939.4,245.7h0M928.7,224.4h0M878.6,232.2h0M877.9,227.5h0M883.0,261.8h0M886.9,242.4h0M885.4,260.4h0M883.8,244.6h0M872.6,246.6h0M881.5,216.0h0M891.6,231.4h0M879.3,234.9h0M872.1,268.6h0M874.3,259.8h0M876.9,272.0h0M868.0,270.5h0M875.8,254.1h0M882.5,226.3h0M889.3,235.9h0M879.7,218.1h0M872.4,250.3h0M881.9,238.8h0M875.6,250.9h0M881.6,266.7h0M876.4,261.3h0M882.3,219.0h0M884.4,250.7h0M880.1,262.8h0M889.2,246.9h0M879.2,239.2h0M873.5,236.6h0M884.9,271.4h0M874.5,230.1h0M881.1,257.8h0M878.7,248.3h0M878.0,256.9h0M887.1,233.4h0M881.6,251.9h0M882.6,231.2h0M877.9,266.3h0M883.8,264.7h0M869.5,264.0h0M875.2,267.3h0M868.9,267.2h0M887.6,254.4h0M879.7,222.7h0M888.4,244.4h0M869.0,272.8h0M882.9,254.9h0M874.4,240.7h0M878.6,242.4h0M889.7,229.9h0M868.4,261.9h0M887.1,229.3h0M875.6,225.5h0M874.2,232.6h0M884.0,221.9h0M887.4,239.0h0M884.2,234.7h0M870.3,260.3h0M876.8,246.7h0M882.0,270.1h0M873.6,263.8h0M886.9,248.6h0M880.3,255.0h0M880.0,260.2h0M881.1,245.7h0M876.4,217.5h0M885.1,253.4h0M872.8,257.7h0M878.9,251.0h0M881.7,248.9h0M871.8,253.3h0M874.0,270.6h0M888.2,225.2h0M880.2,225.2h0M878.6,214.2h0M876.9,220.3h0M887.3,258.4h0M891.6,234.3h0M883.9,241.1h0M876.5,222.7h0M877.8,320.9h0M871.7,325.4h0M844.0,385.2h0M862.4,282.8h0M855.6,375.6h0M860.5,295.4h0M862.4,306.6h0M843.3,370.7h0M862.2,322.5h0M885.1,322.7h0M878.0,299.7h0M868.2,289.0h0M833.4,365.2h0M864.6,308.8h0M849.1,360.7h0M873.1,327.4h0M863.5,299.1h0M866.8,280.8h0M845.9,339.1h0M860.6,334.0h0M854.6,359.5h0M858.7,329.6h0M865.2,320.6h0M868.0,342.9h0M880.8,294.8h0M836.4,359.3h0M882.7,278.8h0M899.6,327.9h0M869.1,295.7h0M857.7,310.2h0M844.5,381.3h0M864.5,343.4h0M853.2,354.5h0M866.6,333.4h0M883.6,324.9h0M841.3,369.5h0M837.6,377.2h0M850.9,368.2h0M840.2,355.1h0M877.6,327.0h0M855.0,335.8h0M868.9,309.0h0M880.7,287.4h0M889.0,321.3h0M856.8,340.8h0M841.8,377.5h0M833.9,371.9h0M875.8,322.5h0M838.4,373.9h0M843.7,344.7h0M855.1,352.0h0M848.4,357.2h0M851.9,364.6h0M902.0,324.2h0M846.7,368.7h0M883.7,274.3h0M848.3,342.4h0M845.2,349.8h0M873.7,331.3h0M833.0,369.5h0M859.9,308.4h0M856.9,359.2h0M866.5,310.8h0M853.3,328.5h0M836.8,367.2h0M876.1,313.8h0M881.9,322.5h0M865.8,315.1h0M859.8,351.3h0M852.7,385.3h0M866.5,287.0h0M854.0,361.9h0M865.8,325.7h0M863.8,327.9h0M900.5,331.3h0M875.0,287.7h0M863.2,280.2h0M868.2,340.0h0M889.1,329.2h0M854.2,339.7h0M842.6,382.8h0M849.8,333.3h0M873.9,305.2h0M851.5,379.6h0M849.9,371.1h0M847.1,344.8h0M863.4,318.1h0M871.7,337.0h0M858.4,337.9h0M864.2,288.0h0M873.2,279.7h0M902.2,327.9h0M837.1,386.5h0M856.0,333.5h0M875.6,300.1h0M891.7,331.2h0M868.8,316.1h0M840.3,375.3h0M880.4,305.9h0M867.2,299.8h0M840.0,345.2h0M870.6,279.0h0M881.2,285.0h0M887.2,324.1h0M872.6,290.1h0M838.6,381.3h0M863.1,333.3h0M847.1,348.4h0M880.3,312.9h0M845.8,365.3h0M876.4,274.1h0M854.3,373.4h0M895.5,333.3h0M874.6,277.9h0M874.6,320.1h0M859.2,318.7h0M860.7,302.5h0M841.4,362.6h0M873.4,274.1h0M881.0,327.4h0M870.4,284.2h0M859.7,365.4h0M870.1,276.2h0M902.6,320.8h0M882.6,318.7h0M876.8,292.9h0M880.8,316.1h0M859.5,360.8h0M860.6,288.2h0M877.7,282.7h0M840.0,359.8h0M856.6,346.2h0M882.8,334.4h0M846.2,375.8h0M864.1,293.6h0M847.4,335.7h0M895.8,323.5h0M873.9,285.1h0M855.0,370.6h0M871.4,294.9h0M880.6,274.3h0M871.6,292.2h0M853.7,319.7h0M878.0,336.2h0M837.7,354.8h0M848.5,378.2h0M853.7,368.5h0M849.7,374.4h0M876.8,329.3h0M863.8,330.7h0M874.2,315.4h0M875.0,337.3h0M890.4,326.2h0M835.2,363.1h0M848.8,329.6h0M848.1,354.6h0M896.4,326.4h0M852.7,370.9h0M851.2,382.1h0M877.8,324.1h0M861.2,313.2h0M866.8,328.5h0M892.8,322.8h0M858.9,370.3h0M883.2,287.5h0M870.1,321.2h0M872.6,308.2h0M868.7,302.4h0M866.3,336.1h0M862.8,338.6h0M888.6,331.4h0M861.0,315.9h0M850.6,323.8h0M851.2,351.7h0M854.5,347.5h0M870.7,329.1h0M875.0,295.6h0M846.6,361.7h0M882.9,330.8h0M870.2,298.7h0M848.2,380.5h0M860.9,345.3h0M859.7,306.0h0M868.3,292.8h0M853.1,337.1h0M859.1,363.1h0M850.9,341.5h0M840.9,365.2h0M857.9,315.0h0M875.1,282.8h0M870.5,306.8h0M850.9,349.3h0M877.1,278.7h0M839.0,384.9h0M859.2,324.1h0M879.1,332.9h0M838.6,369.1h0M872.7,312.6h0M851.6,376.6h0M839.5,349.5h0M870.8,311.2h0M857.4,304.2h0M856.3,329.6h0M856.2,325.6h0M859.8,327.5h0M850.9,335.6h0M876.5,316.5h0M851.5,346.3h0M879.8,318.5h0M876.3,304.4h0M861.5,324.9h0M861.8,353.2h0M878.6,310.4h0M847.4,383.5h0M872.5,333.7h0M843.0,352.6h0M852.7,344.0h0M878.3,289.9h0M853.8,378.8h0M844.1,357.2h0M878.3,297.1h0M881.4,299.5h0M867.7,277.6h0M847.2,371.2h0M856.2,355.0h0M841.6,343.5h0M855.3,383.2h0M868.6,326.8h0M886.0,330.8h0M882.4,311.7h0M875.9,290.2h0M863.3,302.8h0M873.7,310.4h0M843.7,375.0h0M878.0,287.2h0M856.9,372.9h0M840.8,372.8h0M856.1,380.4h0M841.1,380.7h0M879.6,302.1h0M861.5,293.1h0M860.3,299.3h0M844.2,360.5h0M891.9,319.5h0M840.3,351.8h0M854.7,315.6h0M848.7,350.5h0M860.2,321.1h0M867.6,273.0h0M835.8,369.9h0M871.9,286.7h0M874.9,307.8h0M864.7,276.8h0M898.3,332.3h0M882.1,291.4h0M863.9,348.4h0M903.1,332.2h0M853.7,323.7h0M841.6,357.9h0M868.5,318.6h0M860.2,339.5h0M868.7,324.3h0M863.0,346.1h0M822.5,383.1h0M819.4,387.4h0M820.7,379.3h0M821.5,376.2h0M818.0,376.2h0M816.4,380.3h0M816.4,386.3h0M819.8,382.6h0M826.1,375.5h0M832.6,385.9h0M866.6,354.1h0M874.3,357.4h0M872.1,347.5h0M866.6,344.8h0M869.4,376.6h0M865.0,372.3h0M871.2,341.9h0M886.9,337.9h0M878.7,334.9h0M873.5,339.8h0M871.8,336.1h0M878.4,339.2h0M886.7,340.7h0M883.0,337.2h0M884.5,342.5h0M874.9,343.1h0M881.0,344.4h0M865.0,372.1h0M869.0,376.6h0M806.8,394.8h0M815.0,393.5h0M820.5,393.0h0M826.5,397.2h0M833.2,398.1h0M852.6,393.4h0M860.5,392.1h0M867.2,390.3h0M870.8,396.3h0M906.5,391.5h0M924.5,367.2h0M887.2,414.5h0M874.1,357.2h0M866.8,353.0h0M852.3,361.5h0M906.5,331.5h0M853.5,418.2h0M860.5,423.3h0M875.5,425.1h0M887.2,415.1h0M923.7,431.3h0M860.5,440.9h0M859.9,442.2h0M913.2,452.7h0M908.6,466.4h0M862.1,470.4h0M833.2,400.0h0M889.5,555.5h0M889.5,561.5h0M880.8,584.2h0M878.3,600.0h0M876.5,603.6h0M932.7,194.3h0M905.8,196.9h0M930.5,182.1h0M920.3,197.3h0M947.5,186.9h0M901.7,191.2h0M946.9,190.3h0M923.2,192.5h0M924.6,183.4h0M916.8,183.5h0M934.9,184.4h0M904.5,177.7h0M942.0,197.8h0M898.8,187.6h0M913.5,194.9h0M900.0,182.2h0M922.6,201.1h0M902.1,184.4h0M919.2,178.7h0M933.8,175.0h0M897.7,192.4h0M941.9,182.1h0M910.9,173.9h0M912.2,202.7h0M900.0,196.1h0M896.5,185.8h0M912.5,185.2h0M926.1,197.2h0M918.3,190.8h0M935.9,192.0h0M924.4,173.7h0M928.9,196.5h0M930.9,186.2h0M916.9,199.1h0M911.3,190.8h0M933.2,200.4h0M938.7,180.2h0M922.7,179.9h0M904.6,182.1h0M936.7,188.8h0M922.6,186.1h0M938.8,175.8h0M931.0,178.4h0M908.7,183.2h0M936.5,197.9h0M916.2,176.6h0M928.2,184.1h0M911.6,178.3h0M929.6,174.3h0M921.1,174.8h0M926.1,189.9h0M894.5,191.9h0M925.4,201.8h0M919.3,193.5h0M939.5,239.5h0M935.3,244.4h0M900.0,232.5h0M935.1,227.2h0M943.2,238.4h0M928.5,221.5h0M939.4,247.0h0M895.9,232.3h0M905.1,231.9h0M909.3,234.1h0M914.0,232.0h0M924.5,221.6h0M935.3,233.6h0M923.7,237.9h0M927.2,224.9h0M940.6,232.1h0M962.4,141.8h0M964.2,150.9h0M966.0,152.7h0M957.8,158.2h0M966.9,158.2h0M966.0,162.7h0M972.4,169.1h0M957.8,170.9h0M956.9,175.5h0M968.7,177.3h0M962.4,180.0h0M967.8,182.7h0M956.9,188.2h0M957.8,190.9h0M966.9,193.6h0M969.6,193.6h0M961.5,195.5h0M964.2,198.2h0M957.8,200.0h0M961.5,202.7h0M959.6,198.2h0M954.2,201.8h0M955.1,150.0h0M956.0,153.6h0M896.9,239.1h0M902.4,245.5h0M896.9,246.4h0M892.4,263.6h0M897.8,264.5h0M904.2,265.5h0M919.6,270.0h0M931.5,270.0h0M936.9,268.2h0M940.5,267.3h0M937.8,253.6h0M939.6,255.5h0M936.9,260.9h0M929.6,246.4h0M898.9,286.4h0M919.9,332.2h0M931.9,284.7h0M939.0,280.6h0M917.5,291.1h0M888.7,287.9h0M898.1,274.5h0M931.9,305.9h0M897.6,279.6h0M917.6,316.2h0M907.3,304.0h0M936.4,303.7h0M892.7,286.2h0M912.4,320.4h0M906.8,294.1h0M902.4,292.6h0M906.0,325.8h0M928.7,278.3h0M903.5,315.6h0M885.0,281.7h0M939.1,276.1h0M935.4,295.7h0M920.6,284.0h0M929.6,301.7h0M910.3,298.7h0M917.5,322.9h0M922.0,297.1h0M914.1,334.3h0M899.8,315.4h0M893.0,276.3h0M920.1,276.5h0M921.7,328.7h0M916.9,274.4h0M901.1,304.8h0M905.6,310.1h0M927.5,310.5h0M921.9,319.3h0M927.9,323.0h0M917.2,303.1h0M885.8,302.9h0M936.4,313.5h0M890.5,297.4h0M885.9,291.3h0M938.0,309.4h0M933.2,291.4h0M930.3,317.9h0M904.1,288.6h0M887.7,278.2h0M924.5,274.9h0M906.5,297.9h0M899.8,309.0h0M905.1,283.1h0M912.2,313.7h0M914.4,298.6h0M909.1,308.9h0M885.1,312.1h0M938.2,286.4h0M920.0,309.8h0M933.6,330.6h0M900.2,282.9h0M937.4,331.3h0M916.4,285.7h0M924.0,309.0h0M930.0,326.1h0M928.9,333.0h0M912.2,325.7h0M924.2,285.0h0M934.7,288.0h0M911.6,303.0h0M883.9,347.3h0M887.7,341.7h0M896.2,347.3h0M892.8,367.6h0M906.7,350.8h0M879.4,358.6h0M900.4,344.4h0M877.7,354.1h0M906.6,355.8h0M874.0,351.9h0M902.8,352.9h0M866.5,340.1h0M893.9,374.4h0M880.1,369.1h0M898.5,366.2h0M895.2,339.2h0M876.8,375.9h0M888.7,365.5h0M882.3,364.6h0M883.6,340.0h0M891.0,351.9h0M897.0,378.8h0M900.2,336.1h0M890.7,356.3h0M872.4,366.6h0M866.3,378.6h0M909.1,340.6h0M880.3,334.4h0M863.5,365.0h0M866.9,354.7h0M901.8,371.5h0M887.9,370.1h0M898.9,357.3h0M876.7,349.0h0M909.5,335.1h0M861.1,357.0h0M906.0,347.2h0M886.0,382.1h0M861.5,352.4h0M877.6,342.6h0M890.2,336.7h0M872.2,347.9h0M885.3,357.1h0M870.1,370.6h0M871.6,362.9h0M904.1,366.2h0M881.8,379.9h0M892.3,363.1h0M897.7,353.6h0M865.3,359.0h0M867.0,334.8h0M880.0,373.5h0M864.3,370.2h0M873.0,374.9h0M903.9,361.6h0M925.9,353.0h0M924.1,367.5h0M905.4,391.5h0M921.7,404.3h0M929.9,339.4h0M806.2,393.0h0M808.9,400.1h0M812.3,390.9h0M812.4,397.2h0M820.3,399.6h0M823.1,397.0h0M816.8,404.8h0M813.6,399.8h0M816.5,395.4h0M810.9,393.9h0M811.6,402.8h0M825.5,398.9h0M808.9,391.3h0M819.3,390.1h0M816.4,399.8h0M809.6,400.9h0M812.4,402.7h0M810.5,404.5h0M814.2,401.5h0M813.3,405.5h0M808.7,405.5h0M922.7,404.9h0M850.0,416.7h0M853.6,418.2h0M859.3,424.0h0M860.9,423.1h0M851.5,427.8h0M819.6,432.7h0M821.5,434.5h0M822.4,433.6h0M820.5,436.4h0M865.1,437.8h0M826.9,449.5h0M916.5,448.2h0M903.3,472.2h0M902.7,478.5h0M900.5,487.3h0M900.0,503.3h0M897.3,538.2h0M886.0,541.8h0M896.9,538.2h0M886.0,542.4h0M887.5,543.6h0M893.3,549.6h0M890.0,552.7h0M889.6,555.5h0M883.3,560.0h0M889.6,561.8h0M885.6,569.1h0M884.7,572.7h0M884.2,574.0h0M880.9,584.2h0M878.4,600.0h0M876.5,603.1h0M876.0,604.5h0" fill="none" stroke="#0c81cc" stroke-width="5.2" stroke-linecap="round"/>
<g fill="none" stroke="#111" stroke-linejoin="round">
<path d="M438.5,138.3 C438.5,138.3 440.7,139.0 441.3,139.7 C441.9,140.4 442.4,142.4 442.4,142.4 C442.4,142.4 449.5,142.9 449.5,142.9 C449.5,142.9 449.2,146.9 448.9,149.5 C448.6,152.1 448.3,155.2 447.8,158.3 C447.3,161.4 446.3,164.8 445.7,168.1 C445.1,171.4 444.2,175.3 444.0,178.0 C443.8,180.7 444.1,182.3 444.6,184.5 C445.2,186.7 446.7,188.5 447.3,191.1 C447.9,193.7 448.2,196.9 448.4,199.8 C448.6,202.7 448.3,206.6 448.4,208.6 C448.5,210.6 448.6,210.9 448.9,211.7 C449.2,212.5 450.0,213.2 450.0,213.2 C450.0,213.2 443.9,214.9 443.9,214.9 C443.9,214.9 441.8,218.1 441.2,220.9 C440.6,223.7 440.4,228.2 440.1,231.9 C439.8,235.6 440.0,239.7 439.6,242.8 C439.2,245.9 438.1,247.9 437.9,250.5 C437.7,253.1 438.2,255.4 438.5,258.1 C438.8,260.8 439.5,264.0 439.6,266.9 C439.7,269.8 439.5,272.3 439.0,275.6 C438.5,278.9 437.4,284.0 436.8,286.6 C436.2,289.2 435.6,289.3 435.3,291.0 C435.0,292.7 434.7,294.6 434.8,296.6 C434.9,298.6 435.6,300.6 435.9,303.1 C436.2,305.7 436.1,309.0 436.4,311.9 C436.7,314.8 437.2,318.3 437.5,320.6 C437.8,322.9 438.8,323.9 438.4,325.9 C438.0,327.9 436.3,330.3 435.3,332.7 C434.3,335.1 433.3,337.6 432.6,340.3 C431.9,343.0 431.4,346.2 431.0,349.1 C430.6,352.0 430.7,354.7 430.4,357.8 C430.1,360.9 429.9,364.4 429.4,367.5 C428.9,370.6 428.6,373.5 427.6,376.3 C426.6,379.1 424.4,381.7 423.2,384.2 C422.0,386.7 420.6,389.1 420.6,391.3 C420.6,393.5 422.1,395.3 423.2,397.4 C424.3,399.5 426.4,401.7 427.0,403.9 C427.6,406.1 427.4,408.1 427.0,410.5 C426.6,412.9 425.5,415.6 424.8,418.1 C424.1,420.7 423.2,423.6 422.6,425.8 C422.1,428.0 422.7,429.6 421.5,431.3 C420.3,433.0 416.7,434.4 415.5,436.2 C414.3,438.0 415.0,439.9 414.4,442.2 C413.8,444.5 412.6,447.7 411.7,449.9 C410.8,452.1 410.3,452.9 409.2,455.5 C408.1,458.1 406.4,461.2 404.9,465.3 C403.4,469.4 401.4,475.9 400.0,480.0 C398.6,484.1 397.5,486.9 396.8,489.8 C396.1,492.7 395.6,495.1 395.7,497.5 C395.8,499.9 397.5,501.7 397.4,504.1 C397.3,506.5 395.8,509.1 395.2,511.7 C394.6,514.2 393.6,517.0 393.5,519.4 C393.4,521.8 394.1,523.8 394.6,526.0 C395.1,528.2 396.7,530.1 396.3,532.5 C395.9,534.9 393.9,537.5 392.5,540.2 C391.1,543.0 389.1,546.2 388.0,549.0 C386.9,551.8 386.5,553.9 386.0,557.0 C385.5,560.1 385.5,564.0 384.9,567.4 C384.3,570.8 383.1,574.1 382.2,577.2 C381.3,580.3 380.1,583.5 379.5,586.0 C378.9,588.5 379.2,589.8 378.4,592.5 C377.6,595.2 375.8,600.0 374.6,602.4 C373.4,604.8 372.4,605.2 371.3,606.7 C370.2,608.2 368.3,611.7 368.3,611.7 C368.3,611.7 365.5,607.3 364.7,605.6 C363.9,603.9 363.8,603.5 363.6,601.3 C363.4,599.1 364.0,595.4 363.6,592.5 C363.2,589.6 362.5,587.4 361.4,583.8 C360.3,580.1 358.6,575.7 357.0,570.6 C355.4,565.5 353.2,558.2 351.5,553.0 C349.8,547.8 348.5,544.0 347.0,539.5 C345.5,535.0 344.1,530.5 342.7,526.0 C341.2,521.5 339.6,516.5 338.3,512.8 C337.0,509.0 336.4,505.9 335.0,503.5 C333.6,501.1 331.5,500.2 330.1,498.6 C328.7,497.1 326.8,494.2 326.8,494.2 C326.8,494.2 328.4,489.9 328.3,488.0 C328.2,486.1 326.6,484.7 326.1,482.8 C325.6,480.9 325.9,479.4 325.2,476.5 C324.5,473.6 323.0,469.2 321.7,465.3 C320.4,461.4 318.8,457.3 317.4,453.3 C315.9,449.3 314.5,445.5 313.0,441.3 C311.5,437.1 310.1,432.5 308.6,428.1 C307.1,423.7 305.1,417.8 304.2,415.0 C303.3,412.2 303.9,413.8 303.1,411.6 C302.3,409.4 300.4,405.0 299.2,401.7 C298.0,398.4 296.8,395.1 295.9,391.9 C295.0,388.7 293.8,382.3 293.8,382.3 C293.8,382.3 297.8,379.2 300.3,377.1 C302.9,375.0 306.4,372.1 309.1,369.5 C311.8,366.9 314.3,364.4 316.7,361.8 C319.1,359.2 321.3,356.4 323.3,353.6 C325.3,350.8 327.1,347.9 328.8,344.8 C330.5,341.7 332.4,337.9 333.7,335.0 C335.0,332.1 335.0,330.3 336.4,327.2 C337.8,324.1 340.2,320.1 341.9,316.3 C343.6,312.5 345.3,308.1 346.8,304.2 C348.3,300.3 349.8,296.3 351.1,293.0 C352.4,289.7 353.5,287.4 354.6,284.5 C355.7,281.6 356.5,278.9 357.5,275.6 C358.5,272.3 359.8,268.3 360.8,264.7 C361.8,261.1 362.7,257.4 363.5,253.8 C364.3,250.2 365.1,246.5 365.7,242.8 C366.3,239.2 366.8,235.6 367.4,231.9 C367.9,228.2 368.5,224.1 369.0,220.9 C369.5,217.8 369.8,215.1 370.2,213.0 C370.6,210.9 370.9,210.8 371.3,208.6 C371.8,206.4 372.1,202.1 372.9,199.8 C373.7,197.5 376.2,194.9 376.2,194.9 C376.2,194.9 380.6,196.6 380.6,196.6 C380.6,196.6 383.3,195.0 384.4,193.3 C385.5,191.7 386.9,188.7 387.1,186.7 C387.3,184.7 385.5,183.0 385.5,181.2 C385.5,179.4 386.5,177.8 387.1,175.8 C387.7,173.8 388.8,171.5 389.3,169.2 C389.8,166.9 390.1,162.1 390.1,162.1 C390.1,162.1 394.8,162.6 397.5,162.6 C400.2,162.6 404.1,161.9 406.3,161.8 C408.5,161.7 409.2,161.5 410.6,162.1 C412.1,162.7 413.5,164.6 415.0,165.4 C416.5,166.2 417.6,167.2 419.4,167.0 C421.2,166.8 424.0,165.3 426.0,164.3 C428.0,163.3 430.0,162.4 431.4,161.0 C432.8,159.6 433.5,158.2 434.2,156.1 C434.9,154.0 434.9,150.9 435.3,148.4 C435.7,145.9 435.9,142.5 436.4,140.8 C436.9,139.1 438.5,138.3 438.5,138.3 Z" transform="translate(-252.5,0)" stroke-width="1.7" stroke-dasharray="2.6 1.6"/>
<path d="M438.5,138.3 C438.5,138.3 440.7,139.0 441.3,139.7 C441.9,140.4 442.4,142.4 442.4,142.4 C442.4,142.4 449.5,142.9 449.5,142.9 C449.5,142.9 449.2,146.9 448.9,149.5 C448.6,152.1 448.3,155.2 447.8,158.3 C447.3,161.4 446.3,164.8 445.7,168.1 C445.1,171.4 444.2,175.3 444.0,178.0 C443.8,180.7 444.1,182.3 444.6,184.5 C445.2,186.7 446.7,188.5 447.3,191.1 C447.9,193.7 448.2,196.9 448.4,199.8 C448.6,202.7 448.3,206.6 448.4,208.6 C448.5,210.6 448.6,210.9 448.9,211.7 C449.2,212.5 450.0,213.2 450.0,213.2 C450.0,213.2 443.9,214.9 443.9,214.9 C443.9,214.9 441.8,218.1 441.2,220.9 C440.6,223.7 440.4,228.2 440.1,231.9 C439.8,235.6 440.0,239.7 439.6,242.8 C439.2,245.9 438.1,247.9 437.9,250.5 C437.7,253.1 438.2,255.4 438.5,258.1 C438.8,260.8 439.5,264.0 439.6,266.9 C439.7,269.8 439.5,272.3 439.0,275.6 C438.5,278.9 437.4,284.0 436.8,286.6 C436.2,289.2 435.6,289.3 435.3,291.0 C435.0,292.7 434.7,294.6 434.8,296.6 C434.9,298.6 435.6,300.6 435.9,303.1 C436.2,305.7 436.1,309.0 436.4,311.9 C436.7,314.8 437.2,318.3 437.5,320.6 C437.8,322.9 438.8,323.9 438.4,325.9 C438.0,327.9 436.3,330.3 435.3,332.7 C434.3,335.1 433.3,337.6 432.6,340.3 C431.9,343.0 431.4,346.2 431.0,349.1 C430.6,352.0 430.7,354.7 430.4,357.8 C430.1,360.9 429.9,364.4 429.4,367.5 C428.9,370.6 428.6,373.5 427.6,376.3 C426.6,379.1 424.4,381.7 423.2,384.2 C422.0,386.7 420.6,389.1 420.6,391.3 C420.6,393.5 422.1,395.3 423.2,397.4 C424.3,399.5 426.4,401.7 427.0,403.9 C427.6,406.1 427.4,408.1 427.0,410.5 C426.6,412.9 425.5,415.6 424.8,418.1 C424.1,420.7 423.2,423.6 422.6,425.8 C422.1,428.0 422.7,429.6 421.5,431.3 C420.3,433.0 416.7,434.4 415.5,436.2 C414.3,438.0 415.0,439.9 414.4,442.2 C413.8,444.5 412.6,447.7 411.7,449.9 C410.8,452.1 410.3,452.9 409.2,455.5 C408.1,458.1 406.4,461.2 404.9,465.3 C403.4,469.4 401.4,475.9 400.0,480.0 C398.6,484.1 397.5,486.9 396.8,489.8 C396.1,492.7 395.6,495.1 395.7,497.5 C395.8,499.9 397.5,501.7 397.4,504.1 C397.3,506.5 395.8,509.1 395.2,511.7 C394.6,514.2 393.6,517.0 393.5,519.4 C393.4,521.8 394.1,523.8 394.6,526.0 C395.1,528.2 396.7,530.1 396.3,532.5 C395.9,534.9 393.9,537.5 392.5,540.2 C391.1,543.0 389.1,546.2 388.0,549.0 C386.9,551.8 386.5,553.9 386.0,557.0 C385.5,560.1 385.5,564.0 384.9,567.4 C384.3,570.8 383.1,574.1 382.2,577.2 C381.3,580.3 380.1,583.5 379.5,586.0 C378.9,588.5 379.2,589.8 378.4,592.5 C377.6,595.2 375.8,600.0 374.6,602.4 C373.4,604.8 372.4,605.2 371.3,606.7 C370.2,608.2 368.3,611.7 368.3,611.7 C368.3,611.7 365.5,607.3 364.7,605.6 C363.9,603.9 363.8,603.5 363.6,601.3 C363.4,599.1 364.0,595.4 363.6,592.5 C363.2,589.6 362.5,587.4 361.4,583.8 C360.3,580.1 358.6,575.7 357.0,570.6 C355.4,565.5 353.2,558.2 351.5,553.0 C349.8,547.8 348.5,544.0 347.0,539.5 C345.5,535.0 344.1,530.5 342.7,526.0 C341.2,521.5 339.6,516.5 338.3,512.8 C337.0,509.0 336.4,505.9 335.0,503.5 C333.6,501.1 331.5,500.2 330.1,498.6 C328.7,497.1 326.8,494.2 326.8,494.2 C326.8,494.2 328.4,489.9 328.3,488.0 C328.2,486.1 326.6,484.7 326.1,482.8 C325.6,480.9 325.9,479.4 325.2,476.5 C324.5,473.6 323.0,469.2 321.7,465.3 C320.4,461.4 318.8,457.3 317.4,453.3 C315.9,449.3 314.5,445.5 313.0,441.3 C311.5,437.1 310.1,432.5 308.6,428.1 C307.1,423.7 305.1,417.8 304.2,415.0 C303.3,412.2 303.9,413.8 303.1,411.6 C302.3,409.4 300.4,405.0 299.2,401.7 C298.0,398.4 296.8,395.1 295.9,391.9 C295.0,388.7 293.8,382.3 293.8,382.3 C293.8,382.3 297.8,379.2 300.3,377.1 C302.9,375.0 306.4,372.1 309.1,369.5 C311.8,366.9 314.3,364.4 316.7,361.8 C319.1,359.2 321.3,356.4 323.3,353.6 C325.3,350.8 327.1,347.9 328.8,344.8 C330.5,341.7 332.4,337.9 333.7,335.0 C335.0,332.1 335.0,330.3 336.4,327.2 C337.8,324.1 340.2,320.1 341.9,316.3 C343.6,312.5 345.3,308.1 346.8,304.2 C348.3,300.3 349.8,296.3 351.1,293.0 C352.4,289.7 353.5,287.4 354.6,284.5 C355.7,281.6 356.5,278.9 357.5,275.6 C358.5,272.3 359.8,268.3 360.8,264.7 C361.8,261.1 362.7,257.4 363.5,253.8 C364.3,250.2 365.1,246.5 365.7,242.8 C366.3,239.2 366.8,235.6 367.4,231.9 C367.9,228.2 368.5,224.1 369.0,220.9 C369.5,217.8 369.8,215.1 370.2,213.0 C370.6,210.9 370.9,210.8 371.3,208.6 C371.8,206.4 372.1,202.1 372.9,199.8 C373.7,197.5 376.2,194.9 376.2,194.9 C376.2,194.9 380.6,196.6 380.6,196.6 C380.6,196.6 383.3,195.0 384.4,193.3 C385.5,191.7 386.9,188.7 387.1,186.7 C387.3,184.7 385.5,183.0 385.5,181.2 C385.5,179.4 386.5,177.8 387.1,175.8 C387.7,173.8 388.8,171.5 389.3,169.2 C389.8,166.9 390.1,162.1 390.1,162.1 C390.1,162.1 394.8,162.6 397.5,162.6 C400.2,162.6 404.1,161.9 406.3,161.8 C408.5,161.7 409.2,161.5 410.6,162.1 C412.1,162.7 413.5,164.6 415.0,165.4 C416.5,166.2 417.6,167.2 419.4,167.0 C421.2,166.8 424.0,165.3 426.0,164.3 C428.0,163.3 430.0,162.4 431.4,161.0 C432.8,159.6 433.5,158.2 434.2,156.1 C434.9,154.0 434.9,150.9 435.3,148.4 C435.7,145.9 435.9,142.5 436.4,140.8 C436.9,139.1 438.5,138.3 438.5,138.3 Z" transform="translate(0,0)" stroke-width="2"/>
<path d="M438.5,138.3 C438.5,138.3 440.7,139.0 441.3,139.7 C441.9,140.4 442.4,142.4 442.4,142.4 C442.4,142.4 449.5,142.9 449.5,142.9 C449.5,142.9 449.2,146.9 448.9,149.5 C448.6,152.1 448.3,155.2 447.8,158.3 C447.3,161.4 446.3,164.8 445.7,168.1 C445.1,171.4 444.2,175.3 444.0,178.0 C443.8,180.7 444.1,182.3 444.6,184.5 C445.2,186.7 446.7,188.5 447.3,191.1 C447.9,193.7 448.2,196.9 448.4,199.8 C448.6,202.7 448.3,206.6 448.4,208.6 C448.5,210.6 448.6,210.9 448.9,211.7 C449.2,212.5 450.0,213.2 450.0,213.2 C450.0,213.2 443.9,214.9 443.9,214.9 C443.9,214.9 441.8,218.1 441.2,220.9 C440.6,223.7 440.4,228.2 440.1,231.9 C439.8,235.6 440.0,239.7 439.6,242.8 C439.2,245.9 438.1,247.9 437.9,250.5 C437.7,253.1 438.2,255.4 438.5,258.1 C438.8,260.8 439.5,264.0 439.6,266.9 C439.7,269.8 439.5,272.3 439.0,275.6 C438.5,278.9 437.4,284.0 436.8,286.6 C436.2,289.2 435.6,289.3 435.3,291.0 C435.0,292.7 434.7,294.6 434.8,296.6 C434.9,298.6 435.6,300.6 435.9,303.1 C436.2,305.7 436.1,309.0 436.4,311.9 C436.7,314.8 437.2,318.3 437.5,320.6 C437.8,322.9 438.8,323.9 438.4,325.9 C438.0,327.9 436.3,330.3 435.3,332.7 C434.3,335.1 433.3,337.6 432.6,340.3 C431.9,343.0 431.4,346.2 431.0,349.1 C430.6,352.0 430.7,354.7 430.4,357.8 C430.1,360.9 429.9,364.4 429.4,367.5 C428.9,370.6 428.6,373.5 427.6,376.3 C426.6,379.1 424.4,381.7 423.2,384.2 C422.0,386.7 420.6,389.1 420.6,391.3 C420.6,393.5 422.1,395.3 423.2,397.4 C424.3,399.5 426.4,401.7 427.0,403.9 C427.6,406.1 427.4,408.1 427.0,410.5 C426.6,412.9 425.5,415.6 424.8,418.1 C424.1,420.7 423.2,423.6 422.6,425.8 C422.1,428.0 422.7,429.6 421.5,431.3 C420.3,433.0 416.7,434.4 415.5,436.2 C414.3,438.0 415.0,439.9 414.4,442.2 C413.8,444.5 412.6,447.7 411.7,449.9 C410.8,452.1 410.3,452.9 409.2,455.5 C408.1,458.1 406.4,461.2 404.9,465.3 C403.4,469.4 401.4,475.9 400.0,480.0 C398.6,484.1 397.5,486.9 396.8,489.8 C396.1,492.7 395.6,495.1 395.7,497.5 C395.8,499.9 397.5,501.7 397.4,504.1 C397.3,506.5 395.8,509.1 395.2,511.7 C394.6,514.2 393.6,517.0 393.5,519.4 C393.4,521.8 394.1,523.8 394.6,526.0 C395.1,528.2 396.7,530.1 396.3,532.5 C395.9,534.9 393.9,537.5 392.5,540.2 C391.1,543.0 389.1,546.2 388.0,549.0 C386.9,551.8 386.5,553.9 386.0,557.0 C385.5,560.1 385.5,564.0 384.9,567.4 C384.3,570.8 383.1,574.1 382.2,577.2 C381.3,580.3 380.1,583.5 379.5,586.0 C378.9,588.5 379.2,589.8 378.4,592.5 C377.6,595.2 375.8,600.0 374.6,602.4 C373.4,604.8 372.4,605.2 371.3,606.7 C370.2,608.2 368.3,611.7 368.3,611.7 C368.3,611.7 365.5,607.3 364.7,605.6 C363.9,603.9 363.8,603.5 363.6,601.3 C363.4,599.1 364.0,595.4 363.6,592.5 C363.2,589.6 362.5,587.4 361.4,583.8 C360.3,580.1 358.6,575.7 357.0,570.6 C355.4,565.5 353.2,558.2 351.5,553.0 C349.8,547.8 348.5,544.0 347.0,539.5 C345.5,535.0 344.1,530.5 342.7,526.0 C341.2,521.5 339.6,516.5 338.3,512.8 C337.0,509.0 336.4,505.9 335.0,503.5 C333.6,501.1 331.5,500.2 330.1,498.6 C328.7,497.1 326.8,494.2 326.8,494.2 C326.8,494.2 328.4,489.9 328.3,488.0 C328.2,486.1 326.6,484.7 326.1,482.8 C325.6,480.9 325.9,479.4 325.2,476.5 C324.5,473.6 323.0,469.2 321.7,465.3 C320.4,461.4 318.8,457.3 317.4,453.3 C315.9,449.3 314.5,445.5 313.0,441.3 C311.5,437.1 310.1,432.5 308.6,428.1 C307.1,423.7 305.1,417.8 304.2,415.0 C303.3,412.2 303.9,413.8 303.1,411.6 C302.3,409.4 300.4,405.0 299.2,401.7 C298.0,398.4 296.8,395.1 295.9,391.9 C295.0,388.7 293.8,382.3 293.8,382.3 C293.8,382.3 297.8,379.2 300.3,377.1 C302.9,375.0 306.4,372.1 309.1,369.5 C311.8,366.9 314.3,364.4 316.7,361.8 C319.1,359.2 321.3,356.4 323.3,353.6 C325.3,350.8 327.1,347.9 328.8,344.8 C330.5,341.7 332.4,337.9 333.7,335.0 C335.0,332.1 335.0,330.3 336.4,327.2 C337.8,324.1 340.2,320.1 341.9,316.3 C343.6,312.5 345.3,308.1 346.8,304.2 C348.3,300.3 349.8,296.3 351.1,293.0 C352.4,289.7 353.5,287.4 354.6,284.5 C355.7,281.6 356.5,278.9 357.5,275.6 C358.5,272.3 359.8,268.3 360.8,264.7 C361.8,261.1 362.7,257.4 363.5,253.8 C364.3,250.2 365.1,246.5 365.7,242.8 C366.3,239.2 366.8,235.6 367.4,231.9 C367.9,228.2 368.5,224.1 369.0,220.9 C369.5,217.8 369.8,215.1 370.2,213.0 C370.6,210.9 370.9,210.8 371.3,208.6 C371.8,206.4 372.1,202.1 372.9,199.8 C373.7,197.5 376.2,194.9 376.2,194.9 C376.2,194.9 380.6,196.6 380.6,196.6 C380.6,196.6 383.3,195.0 384.4,193.3 C385.5,191.7 386.9,188.7 387.1,186.7 C387.3,184.7 385.5,183.0 385.5,181.2 C385.5,179.4 386.5,177.8 387.1,175.8 C387.7,173.8 388.8,171.5 389.3,169.2 C389.8,166.9 390.1,162.1 390.1,162.1 C390.1,162.1 394.8,162.6 397.5,162.6 C400.2,162.6 404.1,161.9 406.3,161.8 C408.5,161.7 409.2,161.5 410.6,162.1 C412.1,162.7 413.5,164.6 415.0,165.4 C416.5,166.2 417.6,167.2 419.4,167.0 C421.2,166.8 424.0,165.3 426.0,164.3 C428.0,163.3 430.0,162.4 431.4,161.0 C432.8,159.6 433.5,158.2 434.2,156.1 C434.9,154.0 434.9,150.9 435.3,148.4 C435.7,145.9 435.9,142.5 436.4,140.8 C436.9,139.1 438.5,138.3 438.5,138.3 Z" transform="translate(252,0)" stroke-width="2"/>
<path d="M438.5,138.3 C438.5,138.3 440.7,139.0 441.3,139.7 C441.9,140.4 442.4,142.4 442.4,142.4 C442.4,142.4 449.5,142.9 449.5,142.9 C449.5,142.9 449.2,146.9 448.9,149.5 C448.6,152.1 448.3,155.2 447.8,158.3 C447.3,161.4 446.3,164.8 445.7,168.1 C445.1,171.4 444.2,175.3 444.0,178.0 C443.8,180.7 444.1,182.3 444.6,184.5 C445.2,186.7 446.7,188.5 447.3,191.1 C447.9,193.7 448.2,196.9 448.4,199.8 C448.6,202.7 448.3,206.6 448.4,208.6 C448.5,210.6 448.6,210.9 448.9,211.7 C449.2,212.5 450.0,213.2 450.0,213.2 C450.0,213.2 443.9,214.9 443.9,214.9 C443.9,214.9 441.8,218.1 441.2,220.9 C440.6,223.7 440.4,228.2 440.1,231.9 C439.8,235.6 440.0,239.7 439.6,242.8 C439.2,245.9 438.1,247.9 437.9,250.5 C437.7,253.1 438.2,255.4 438.5,258.1 C438.8,260.8 439.5,264.0 439.6,266.9 C439.7,269.8 439.5,272.3 439.0,275.6 C438.5,278.9 437.4,284.0 436.8,286.6 C436.2,289.2 435.6,289.3 435.3,291.0 C435.0,292.7 434.7,294.6 434.8,296.6 C434.9,298.6 435.6,300.6 435.9,303.1 C436.2,305.7 436.1,309.0 436.4,311.9 C436.7,314.8 437.2,318.3 437.5,320.6 C437.8,322.9 438.8,323.9 438.4,325.9 C438.0,327.9 436.3,330.3 435.3,332.7 C434.3,335.1 433.3,337.6 432.6,340.3 C431.9,343.0 431.4,346.2 431.0,349.1 C430.6,352.0 430.7,354.7 430.4,357.8 C430.1,360.9 429.9,364.4 429.4,367.5 C428.9,370.6 428.6,373.5 427.6,376.3 C426.6,379.1 424.4,381.7 423.2,384.2 C422.0,386.7 420.6,389.1 420.6,391.3 C420.6,393.5 422.1,395.3 423.2,397.4 C424.3,399.5 426.4,401.7 427.0,403.9 C427.6,406.1 427.4,408.1 427.0,410.5 C426.6,412.9 425.5,415.6 424.8,418.1 C424.1,420.7 423.2,423.6 422.6,425.8 C422.1,428.0 422.7,429.6 421.5,431.3 C420.3,433.0 416.7,434.4 415.5,436.2 C414.3,438.0 415.0,439.9 414.4,442.2 C413.8,444.5 412.6,447.7 411.7,449.9 C410.8,452.1 410.3,452.9 409.2,455.5 C408.1,458.1 406.4,461.2 404.9,465.3 C403.4,469.4 401.4,475.9 400.0,480.0 C398.6,484.1 397.5,486.9 396.8,489.8 C396.1,492.7 395.6,495.1 395.7,497.5 C395.8,499.9 397.5,501.7 397.4,504.1 C397.3,506.5 395.8,509.1 395.2,511.7 C394.6,514.2 393.6,517.0 393.5,519.4 C393.4,521.8 394.1,523.8 394.6,526.0 C395.1,528.2 396.7,530.1 396.3,532.5 C395.9,534.9 393.9,537.5 392.5,540.2 C391.1,543.0 389.1,546.2 388.0,549.0 C386.9,551.8 386.5,553.9 386.0,557.0 C385.5,560.1 385.5,564.0 384.9,567.4 C384.3,570.8 383.1,574.1 382.2,577.2 C381.3,580.3 380.1,583.5 379.5,586.0 C378.9,588.5 379.2,589.8 378.4,592.5 C377.6,595.2 375.8,600.0 374.6,602.4 C373.4,604.8 372.4,605.2 371.3,606.7 C370.2,608.2 368.3,611.7 368.3,611.7 C368.3,611.7 365.5,607.3 364.7,605.6 C363.9,603.9 363.8,603.5 363.6,601.3 C363.4,599.1 364.0,595.4 363.6,592.5 C363.2,589.6 362.5,587.4 361.4,583.8 C360.3,580.1 358.6,575.7 357.0,570.6 C355.4,565.5 353.2,558.2 351.5,553.0 C349.8,547.8 348.5,544.0 347.0,539.5 C345.5,535.0 344.1,530.5 342.7,526.0 C341.2,521.5 339.6,516.5 338.3,512.8 C337.0,509.0 336.4,505.9 335.0,503.5 C333.6,501.1 331.5,500.2 330.1,498.6 C328.7,497.1 326.8,494.2 326.8,494.2 C326.8,494.2 328.4,489.9 328.3,488.0 C328.2,486.1 326.6,484.7 326.1,482.8 C325.6,480.9 325.9,479.4 325.2,476.5 C324.5,473.6 323.0,469.2 321.7,465.3 C320.4,461.4 318.8,457.3 317.4,453.3 C315.9,449.3 314.5,445.5 313.0,441.3 C311.5,437.1 310.1,432.5 308.6,428.1 C307.1,423.7 305.1,417.8 304.2,415.0 C303.3,412.2 303.9,413.8 303.1,411.6 C302.3,409.4 300.4,405.0 299.2,401.7 C298.0,398.4 296.8,395.1 295.9,391.9 C295.0,388.7 293.8,382.3 293.8,382.3 C293.8,382.3 297.8,379.2 300.3,377.1 C302.9,375.0 306.4,372.1 309.1,369.5 C311.8,366.9 314.3,364.4 316.7,361.8 C319.1,359.2 321.3,356.4 323.3,353.6 C325.3,350.8 327.1,347.9 328.8,344.8 C330.5,341.7 332.4,337.9 333.7,335.0 C335.0,332.1 335.0,330.3 336.4,327.2 C337.8,324.1 340.2,320.1 341.9,316.3 C343.6,312.5 345.3,308.1 346.8,304.2 C348.3,300.3 349.8,296.3 351.1,293.0 C352.4,289.7 353.5,287.4 354.6,284.5 C355.7,281.6 356.5,278.9 357.5,275.6 C358.5,272.3 359.8,268.3 360.8,264.7 C361.8,261.1 362.7,257.4 363.5,253.8 C364.3,250.2 365.1,246.5 365.7,242.8 C366.3,239.2 366.8,235.6 367.4,231.9 C367.9,228.2 368.5,224.1 369.0,220.9 C369.5,217.8 369.8,215.1 370.2,213.0 C370.6,210.9 370.9,210.8 371.3,208.6 C371.8,206.4 372.1,202.1 372.9,199.8 C373.7,197.5 376.2,194.9 376.2,194.9 C376.2,194.9 380.6,196.6 380.6,196.6 C380.6,196.6 383.3,195.0 384.4,193.3 C385.5,191.7 386.9,188.7 387.1,186.7 C387.3,184.7 385.5,183.0 385.5,181.2 C385.5,179.4 386.5,177.8 387.1,175.8 C387.7,173.8 388.8,171.5 389.3,169.2 C389.8,166.9 390.1,162.1 390.1,162.1 C390.1,162.1 394.8,162.6 397.5,162.6 C400.2,162.6 404.1,161.9 406.3,161.8 C408.5,161.7 409.2,161.5 410.6,162.1 C412.1,162.7 413.5,164.6 415.0,165.4 C416.5,166.2 417.6,167.2 419.4,167.0 C421.2,166.8 424.0,165.3 426.0,164.3 C428.0,163.3 430.0,162.4 431.4,161.0 C432.8,159.6 433.5,158.2 434.2,156.1 C434.9,154.0 434.9,150.9 435.3,148.4 C435.7,145.9 435.9,142.5 436.4,140.8 C436.9,139.1 438.5,138.3 438.5,138.3 Z" transform="translate(505,0)" stroke-width="2"/>
</g>
<text x="31.9" y="58.6" font-size="37.2" font-weight="bold" fill="#000" textLength="78.5" lengthAdjust="spacingAndGlyphs" stroke="#000" stroke-width="1.4" stroke-linejoin="round">THE</text>
<text x="116.8" y="58.6" font-size="37.2" font-weight="bold" fill="#000" textLength="156.0" lengthAdjust="spacingAndGlyphs" stroke="#000" stroke-width="1.4" stroke-linejoin="round">ZIONIST</text>
<text x="281.1" y="58.6" font-size="37.2" font-weight="bold" fill="#000" textLength="297.7" lengthAdjust="spacingAndGlyphs" stroke="#000" stroke-width="1.4" stroke-linejoin="round">COLONIZATION</text>
<text x="590.1" y="58.6" font-size="37.2" font-weight="bold" fill="#000" textLength="47.7" lengthAdjust="spacingAndGlyphs" stroke="#000" stroke-width="1.4" stroke-linejoin="round">OF</text>
<text x="653.3" y="58.6" font-size="37.2" font-weight="bold" fill="#000" textLength="203.6" lengthAdjust="spacingAndGlyphs" stroke="#000" stroke-width="1.4" stroke-linejoin="round">PALESTINE</text>
<circle cx="44.7" cy="80.6" r="4.9" fill="#0c81cc"/>
<text x="57.6" y="87.9" font-size="19.6" font-weight="normal" fill="#5e5e5e" textLength="189.0" lengthAdjust="spacingAndGlyphs" stroke="#5e5e5e" stroke-width="0.3">Zionist/Israeli locality</text>
<path d="M296.6,76.0 a4.9,4.9 0 0 0 0,9.8 z" fill="#9a9a9a"/><path d="M296.6,76.0 a4.9,4.9 0 0 1 0,9.8 z" fill="#c6c6c6"/>
<text x="309.2" y="87.9" font-size="19.6" font-weight="normal" fill="#5e5e5e" textLength="277.4" lengthAdjust="spacingAndGlyphs" stroke="#5e5e5e" stroke-width="0.3">Pre-existing/Palestinian locality</text>
<text x="148.3" y="574.6" font-size="31.6" font-weight="bold" fill="#000" textLength="82.1" lengthAdjust="spacingAndGlyphs" stroke="#000" stroke-width="1.2" stroke-linejoin="round">1882</text>
<text x="148.9" y="597.8" font-size="17.5" font-weight="normal" fill="#111" textLength="166.9" lengthAdjust="spacingAndGlyphs" stroke="#111" stroke-width="0.4">First Zionist colony</text>
<text x="148.9" y="620.9" font-size="17.5" font-weight="normal" fill="#111" textLength="126.8" lengthAdjust="spacingAndGlyphs" stroke="#111" stroke-width="0.4">Rishon LeZion</text>
<text x="148.9" y="643.9" font-size="17.5" font-weight="normal" fill="#111" textLength="157.6" lengthAdjust="spacingAndGlyphs" stroke="#111" stroke-width="0.4">established under</text>
<text x="148.9" y="667.0" font-size="17.5" font-weight="normal" fill="#111" textLength="119.4" lengthAdjust="spacingAndGlyphs" stroke="#111" stroke-width="0.4">Ottoman rule</text>
<text x="400.7" y="574.6" font-size="31.6" font-weight="bold" fill="#000" textLength="77.4" lengthAdjust="spacingAndGlyphs" stroke="#000" stroke-width="1.2" stroke-linejoin="round">1947</text>
<text x="401.3" y="597.8" font-size="17.5" font-weight="normal" fill="#111" textLength="147.8" lengthAdjust="spacingAndGlyphs" stroke="#111" stroke-width="0.4">Extent of Zionist</text>
<text x="401.3" y="620.9" font-size="17.5" font-weight="normal" fill="#111" textLength="133.1" lengthAdjust="spacingAndGlyphs" stroke="#111" stroke-width="0.4">colonization by</text>
<text x="401.3" y="643.9" font-size="17.5" font-weight="normal" fill="#111" textLength="117.1" lengthAdjust="spacingAndGlyphs" stroke="#111" stroke-width="0.4">end of British</text>
<text x="401.3" y="667.0" font-size="17.5" font-weight="normal" fill="#111" textLength="138.6" lengthAdjust="spacingAndGlyphs" stroke="#111" stroke-width="0.4">Mandate period</text>
<text x="653.0" y="574.6" font-size="31.6" font-weight="bold" fill="#000" textLength="79.6" lengthAdjust="spacingAndGlyphs" stroke="#000" stroke-width="1.2" stroke-linejoin="round">1966</text>
<text x="653.6" y="597.8" font-size="17.5" font-weight="normal" fill="#111" textLength="163.1" lengthAdjust="spacingAndGlyphs" stroke="#111" stroke-width="0.4">Israeli colonization</text>
<text x="653.6" y="620.9" font-size="17.5" font-weight="normal" fill="#111" textLength="186.1" lengthAdjust="spacingAndGlyphs" stroke="#111" stroke-width="0.4">of lands expropriated</text>
<text x="653.6" y="643.9" font-size="17.5" font-weight="normal" fill="#111" textLength="170.8" lengthAdjust="spacingAndGlyphs" stroke="#111" stroke-width="0.4">from Palestinians in</text>
<text x="653.6" y="667.0" font-size="17.5" font-weight="normal" fill="#111" textLength="89.6" lengthAdjust="spacingAndGlyphs" stroke="#111" stroke-width="0.4">the Nakba</text>
<text x="907.1" y="574.6" font-size="33.6" font-weight="bold" fill="#000" textLength="120.5" lengthAdjust="spacingAndGlyphs" stroke="#000" stroke-width="1.2" stroke-linejoin="round">TODAY</text>
<text x="905.8" y="597.8" font-size="17.5" font-weight="normal" fill="#111" textLength="163.6" lengthAdjust="spacingAndGlyphs" stroke="#111" stroke-width="0.4">Israeli colonization</text>
<text x="905.8" y="620.9" font-size="17.5" font-weight="normal" fill="#111" textLength="153.9" lengthAdjust="spacingAndGlyphs" stroke="#111" stroke-width="0.4">of occupied West</text>
<text x="905.8" y="643.9" font-size="17.5" font-weight="normal" fill="#111" textLength="133.2" lengthAdjust="spacingAndGlyphs" stroke="#111" stroke-width="0.4">Bank, Gaza and</text>
<text x="905.8" y="667.0" font-size="17.5" font-weight="normal" fill="#111" textLength="125.8" lengthAdjust="spacingAndGlyphs" stroke="#111" stroke-width="0.4">Golan Heights</text>
<text x="31.8" y="751.9" font-size="26.6" font-weight="normal" fill="#111" textLength="172.6" lengthAdjust="spacingAndGlyphs" stroke="#f4f4f4" stroke-width="0.45">VISUALIZING</text>
<text x="203.2" y="751.9" font-size="26.6" font-weight="bold" fill="#000" textLength="155.3" lengthAdjust="spacingAndGlyphs" stroke="#000" stroke-width="0.9" stroke-linejoin="round">PALESTINE</text>
<rect x="367.7" y="727.5" width="1.1" height="30.5" fill="#111"/>
<text x="375.2" y="751.9" font-size="26.6" font-weight="normal" fill="#111" textLength="47.2" lengthAdjust="spacingAndGlyphs" stroke="#f4f4f4" stroke-width="0.45">101</text>
<text x="463.0" y="737.0" font-size="13.6" font-weight="normal" fill="#111" textLength="17.0" lengthAdjust="spacingAndGlyphs" stroke="#111" stroke-width="0.3">V1</text>
<text x="483.0" y="737.0" font-size="13.6" font-weight="bold" fill="#000" textLength="26.4" lengthAdjust="spacingAndGlyphs" stroke="#000" stroke-width="0.35">SEP</text>
<text x="512.6" y="737.0" font-size="13.6" font-weight="normal" fill="#111" textLength="31.4" lengthAdjust="spacingAndGlyphs" stroke="#111" stroke-width="0.3">2019</text>
<text x="463.0" y="753.0" font-size="13.6" font-weight="bold" fill="#000" textLength="36.0" lengthAdjust="spacingAndGlyphs" stroke="#000" stroke-width="0.35">DATA</text>
<text x="502.4" y="753.0" font-size="13.6" font-weight="normal" fill="#111" textLength="105.6" lengthAdjust="spacingAndGlyphs" stroke="#111" stroke-width="0.3">bit.ly/vp101data</text>
<rect x="645.8" y="725.2" width="13.9" height="13.9" rx="3.2" fill="#111"/>
<circle cx="652.7" cy="732.2" r="3.4" fill="#f4f4f4"/><circle cx="657.0" cy="728.0" r="0.9" fill="#f4f4f4"/>
<rect x="663.4" y="725.2" width="13.9" height="13.9" rx="3.2" fill="#111"/>
<path transform="translate(0.4,-0.8)" d="M666.2,735.6 c3,1.6 7.6,0.6 8,-4.6 l1,-1.2 -1.2,0.3 0.9,-1.3 -1.4,0.6 c-1.2,-1.2 -3.4,-0.4 -3.1,1.6 c-1.6,0 -2.9,-0.8 -3.9,-2 c-0.6,1.2 -0.2,2.3 0.7,3 l-0.9,-0.2 c0,1.2 0.8,2 1.9,2.3 l-0.9,0.1 c0.4,0.8 1,1.2 1.9,1.3 c-0.8,0.6 -1.8,0.9 -2.9,0.8z" fill="#f4f4f4"/>
<rect x="681.1" y="725.2" width="13.9" height="13.9" rx="3.2" fill="#111"/>
<path transform="translate(-2.9,-0.5)" d="M688.4,739.6 v-5.2 h-1.7 v-2 h1.7 v-1.5 c0,-1.8 1.1,-2.7 2.6,-2.7 l1.5,0.1 v1.8 h-1 c-0.8,0 -1,0.4 -1,1 v1.3 h2 l-0.3,2 h-1.7 v5.2z" fill="#f4f4f4"/>
<text x="699.0" y="737.6" font-size="13.6" font-weight="normal" fill="#111" textLength="128.9" lengthAdjust="spacingAndGlyphs" stroke="#111" stroke-width="0.3">Visualizing Palestine</text>
<text x="645.5" y="754.2" font-size="14.0" font-weight="normal" fill="#111" textLength="42.1" lengthAdjust="spacingAndGlyphs" stroke="#111" stroke-width="0.3">WWW.</text>
<text x="688.5" y="754.2" font-size="14.0" font-weight="bold" fill="#000" textLength="168.2" lengthAdjust="spacingAndGlyphs" stroke="#000" stroke-width="0.4">VISUALIZINGPALESTINE</text>
<text x="857.9" y="754.2" font-size="14.0" font-weight="normal" fill="#111" textLength="62.4" lengthAdjust="spacingAndGlyphs" stroke="#111" stroke-width="0.3">.ORG/101</text>
<text x="970.5" y="722.6" font-size="19" font-weight="normal" fill="#111" textLength="62.5" lengthAdjust="spacingAndGlyphs" stroke="#f4f4f4" stroke-width="0.5">VISUAL</text>
<text x="1038.6" y="722.6" font-size="19" font-weight="bold" fill="#000" textLength="25.8" lengthAdjust="spacingAndGlyphs" stroke="#000" stroke-width="0.6">1.3</text>
<circle cx="971.4" cy="740.5" r="11.1" fill="none" stroke="#111" stroke-width="2.8"/>
<circle cx="999.5" cy="740.5" r="11.1" fill="none" stroke="#111" stroke-width="2.8"/>
<circle cx="1028.0" cy="740.5" r="11.1" fill="none" stroke="#111" stroke-width="2.8"/>
<circle cx="1056.1" cy="740.5" r="11.1" fill="none" stroke="#111" stroke-width="2.8"/>
<text x="964.1" y="744.2" font-size="12.8" font-weight="bold" fill="#111" textLength="14.6" lengthAdjust="spacingAndGlyphs" stroke="#111" stroke-width="0.9">cc</text>
<circle cx="999.5" cy="734.2" r="1.8" fill="#111"/><path d="M996.0,736.6 h7 v6.4 h-1.6 v5.6 h-3.8 v-5.6 h-1.6z" fill="#111"/>
<text x="1023.4" y="746.7" font-size="17" font-weight="bold" fill="#111" textLength="9.2" lengthAdjust="spacingAndGlyphs" stroke="#111" stroke-width="0.4">$</text>
<path d="M1018.4,735.9 L1037.8,744.1" stroke="#f4f4f4" stroke-width="3.3"/>
<path d="M1017.8,735.7 L1038.2,744.3" stroke="#111" stroke-width="2.5"/>
<rect x="1051.1" y="737.5" width="10" height="2.2" fill="#111"/><rect x="1051.1" y="741.3" width="10" height="2.2" fill="#111"/>
</svg></body></html>
